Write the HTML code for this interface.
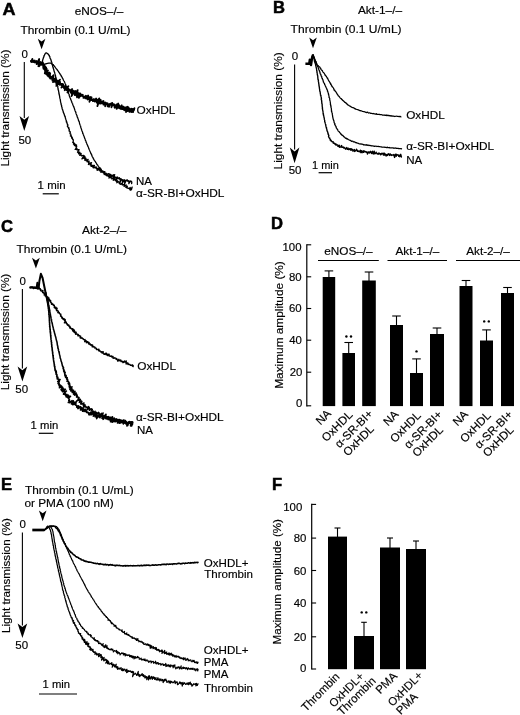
<!DOCTYPE html>
<html lang="en">
<head>
<meta charset="utf-8">
<title>Figure</title>
<style>
html,body{margin:0;padding:0;background:#fff;}
body{width:520px;height:715px;overflow:hidden;}
svg{display:block;font-family:"Liberation Sans",sans-serif;fill:#000;filter:grayscale(1);}
text{stroke:#000;stroke-width:0.16px;}
</style>
</head>
<body>
<svg width="520" height="715" viewBox="0 0 520 715">
<rect x="0" y="0" width="520" height="715" fill="#fff"/>
<!-- panel_A -->
<text x="2.4" y="14.8" font-size="16.6" text-anchor="start" font-weight="bold" textLength="13.0" lengthAdjust="spacingAndGlyphs" style="stroke-width:0.5px">A</text>
<text x="74.7" y="14.5" font-size="11.5" text-anchor="start" font-weight="normal" textLength="48.6" lengthAdjust="spacingAndGlyphs">eNOS–/–</text>
<text x="20.4" y="34.2" font-size="11.5" text-anchor="start" font-weight="normal" textLength="110.2" lengthAdjust="spacingAndGlyphs">Thrombin (0.1 U/mL)</text>
<path d="M37.8,38.7 L41.6,41.4 L45.4,38.7 L41.6,49.3 Z" fill="#000"/>
<text x="24.6" y="57.6" font-size="11.5" text-anchor="middle" font-weight="normal">0</text>
<line x1="24.3" y1="62.0" x2="24.3" y2="118.0" stroke="#000" stroke-width="1.1"/>
<path d="M19.5,116.0 L24.3,119.8 L29.1,116.0 L24.3,131.0 Z" fill="#000"/>
<text x="24.8" y="144.2" font-size="11.5" text-anchor="middle" font-weight="normal">50</text>
<text transform="translate(9.3,166.6) rotate(-90)" font-size="11.5" textLength="117.0" lengthAdjust="spacingAndGlyphs">Light transmission (%)</text>
<text x="37.6" y="189.2" font-size="11.5" text-anchor="start" font-weight="normal" textLength="28.0" lengthAdjust="spacingAndGlyphs">1 min</text>
<line x1="42.7" y1="193.8" x2="58.8" y2="193.8" stroke="#000" stroke-width="1.2"/>
<text x="136.6" y="113.6" font-size="11.5" text-anchor="start" font-weight="normal" textLength="38.8" lengthAdjust="spacingAndGlyphs">OxHDL</text>
<text x="136.0" y="185.1" font-size="11.5" text-anchor="start" font-weight="normal">NA</text>
<text x="136.1" y="196.9" font-size="11.5" text-anchor="start" font-weight="normal" textLength="88.4" lengthAdjust="spacingAndGlyphs">α-SR-BI+OxHDL</text>
<path d="M30.88,60.99 L31.00,61.73 L31.46,61.11 L32.36,58.90 L31.82,62.07 L32.28,61.51 L32.95,60.22 L32.79,61.86 L33.16,61.64 L33.48,61.63 L33.88,61.35 L33.94,62.15 L34.79,60.47 L34.82,61.35 L35.25,61.01 L35.04,62.59 L35.58,61.92 L36.02,61.56 L36.54,60.99 L36.57,61.80 L36.73,62.27 L37.15,61.98 L36.67,64.22 L37.09,63.93 L39.21,58.96 L39.10,60.19 L38.52,62.63 L38.93,62.40 L38.87,63.37 L39.15,63.49 L38.36,66.14 L40.46,61.95 L40.32,63.05 L39.13,66.36 L40.24,64.65 L40.49,64.79 L41.51,63.40 L42.55,62.08 L41.59,64.55 L41.90,64.62 L43.09,63.07 L42.98,63.91 L42.81,64.83 L43.78,63.95 L43.34,65.15 L43.39,65.55 L43.66,65.69 L44.46,65.41 L43.32,66.54 L43.00,66.86 L43.86,66.82 L45.53,66.64 L43.45,67.53 L45.25,67.37 L43.38,68.14 L46.20,67.77 L43.47,68.73 L44.86,68.71 L46.66,68.58 L45.41,69.19 L44.96,69.61 L44.73,69.98 L46.56,69.77 L46.81,69.96 L45.11,70.84 L46.10,70.69 L45.35,71.44 L44.84,72.08 L48.00,70.56 L45.79,72.25 L44.78,73.28 L46.79,72.31 L47.56,72.11 L45.91,73.70 L46.68,73.50 L46.16,74.34 L47.73,73.41 L49.14,72.51 L47.87,74.07 L48.42,73.94 L47.39,75.41 L48.20,75.02 L50.22,73.29 L50.00,73.95 L48.19,76.37 L48.61,76.36 L50.12,75.15 L49.72,76.03 L49.49,76.71 L49.69,76.94 L49.51,77.58 L50.34,77.13 L50.91,76.95 L51.29,76.98 L50.25,78.61 L53.62,75.18 L51.85,77.70 L51.91,78.08 L53.49,76.64 L52.10,78.80 L53.23,77.88 L52.09,79.78 L53.22,78.84 L52.75,79.94 L52.50,80.76 L53.48,79.98 L54.82,78.71 L55.61,78.14 L53.03,82.12 L54.88,80.13 L55.61,79.63 L55.14,80.78 L55.67,80.56 L55.03,81.97 L55.97,81.18 L56.23,81.33 L57.09,80.64 L56.33,82.21 L57.84,80.61 L56.66,82.79 L56.18,83.98 L58.99,80.56 L60.03,79.63 L57.67,83.43 L56.27,85.88 L59.53,81.88 L59.99,81.77 L58.66,84.10 L60.12,82.60 L60.08,83.17 L60.19,83.53 L59.68,84.74 L60.72,83.82 L60.38,84.80 L61.01,84.44 L61.82,83.83 L61.62,84.62 L62.40,84.05 L61.83,85.36 L63.03,84.20 L63.25,84.41 L61.34,87.59 L62.86,85.98 L63.10,86.15 L62.88,87.00 L63.90,86.06 L63.98,86.46 L63.69,87.41 L64.06,87.41 L65.48,85.86 L64.10,88.42 L65.51,86.87 L66.13,86.48 L66.25,86.83 L66.09,87.61 L64.74,90.22 L67.21,86.98 L66.41,88.77 L68.45,86.12 L67.04,88.89 L66.61,90.16 L67.73,88.92 L68.28,88.59 L67.89,89.81 L67.80,90.55 L68.09,90.66 L67.41,92.46 L68.95,90.39 L69.78,89.53 L69.71,90.26 L69.94,90.48 L70.07,90.85 L70.43,90.82 L70.56,91.22 L72.08,89.00 L70.65,92.34 L71.86,90.68 L72.52,90.05 L71.58,92.52 L71.40,93.53 L72.22,92.60 L72.70,92.31 L73.68,91.03 L71.50,96.10 L73.05,93.65 L74.61,91.15 L74.64,91.75 L74.37,93.01 L75.66,90.99 L74.86,93.37 L75.52,92.68 L74.76,95.02 L75.20,94.80 L77.69,90.08 L76.30,93.84 L77.57,91.77 L76.21,95.50 L77.05,94.37 L77.10,95.00 L78.32,92.98 L76.91,96.94 L77.08,97.32 L79.13,93.34 L78.58,95.37 L79.46,94.09 L79.36,95.08 L80.34,93.53 L78.86,97.84 L80.72,94.16 L80.62,95.17 L80.46,96.36 L81.37,94.93 L81.42,95.59 L81.87,95.27 L81.92,95.96 L82.75,94.68 L82.64,95.77 L82.79,96.19 L83.14,96.13 L83.21,96.77 L83.67,96.41 L83.40,97.93 L84.24,96.58 L84.43,96.94 L84.98,96.34 L85.19,96.63 L85.84,95.73 L85.21,98.26 L86.34,96.11 L86.42,96.75 L86.14,98.36 L86.40,98.52 L87.08,97.53 L88.17,95.43 L87.24,98.85 L87.60,98.74 L88.70,96.55 L87.92,99.64 L88.92,97.72 L89.40,97.24 L89.10,99.01 L89.51,98.74 L89.62,99.36 L90.75,96.97 L89.43,101.76 L90.84,98.54 L91.56,97.35 L90.85,100.41 L91.58,99.17 L91.55,100.20 L92.14,99.37 L92.30,99.85 L92.45,100.37 L93.17,99.09 L92.83,101.15 L93.62,99.65 L94.08,99.19 L93.95,100.59 L94.08,101.19 L94.66,100.35 L95.21,99.56 L94.87,101.70 L96.16,98.49 L96.14,99.58 L95.98,101.16 L96.84,99.29 L96.56,101.31 L96.88,101.28 L96.79,102.69 L97.80,100.24 L97.97,100.73 L97.88,102.15 L99.26,98.33 L97.39,106.18 L99.15,100.95 L99.45,100.98 L99.13,103.29 L99.76,102.10 L100.71,99.75 L100.09,103.19 L100.30,103.59 L101.07,101.84 L101.30,102.15 L101.31,103.30 L102.11,101.42 L101.91,103.39 L102.28,103.13 L102.89,101.98 L103.45,101.05 L103.31,102.76 L103.84,101.93 L103.44,104.63 L104.05,103.51 L104.10,104.48 L104.63,103.64 L104.87,103.90 L105.55,102.51 L105.31,104.62 L105.19,106.26 L106.24,103.40 L106.64,103.08 L106.77,103.76 L107.18,103.39 L107.55,103.15 L107.53,104.41 L107.98,103.88 L107.64,106.38 L108.45,104.44 L108.63,104.97 L108.69,105.92 L109.43,104.24 L109.10,106.75 L110.13,103.92 L110.49,103.75 L110.62,104.44 L110.82,104.87 L111.57,103.13 L111.37,105.13 L112.24,102.91 L111.45,107.28 L112.26,105.28 L112.75,104.57 L113.14,104.26 L113.24,105.07 L113.48,105.37 L114.06,104.29 L114.30,104.54 L114.34,105.64 L114.75,105.25 L114.53,107.37 L114.75,107.72 L115.43,106.22 L115.56,106.93 L116.48,104.46 L116.09,107.31 L116.61,106.44 L116.72,107.24 L116.63,108.88 L118.27,103.49 L117.67,107.14 L118.44,105.30 L118.14,107.75 L119.10,105.14 L119.10,106.36 L119.15,107.42 L119.30,108.07 L119.78,107.38 L120.37,106.23 L120.58,106.64 L120.37,108.74 L120.97,107.56 L121.85,105.27 L121.25,108.90 L121.69,108.37 L121.82,109.09 L122.54,107.46 L122.42,109.17 L123.39,106.59 L123.09,108.96 L123.76,107.54 L123.63,109.25 L123.80,109.79 L124.72,107.42 L124.77,108.46 L125.03,108.66 L124.90,110.35 L125.37,109.75 L126.35,107.11 L126.04,109.54 L126.23,110.02 L126.04,112.03 L127.66,106.75 L127.55,108.43 L127.20,111.14 L128.41,107.42 L128.64,107.71 L128.36,110.20 L128.49,110.97 L129.33,108.66 L129.24,110.43 L129.67,109.90 L129.53,111.95 L130.29,109.86 L130.28,111.33 L131.14,108.71 L131.22,109.79 L131.49,109.97 L131.43,111.79 L131.89,111.05 L132.56,109.22 L132.45,111.31 L132.73,111.50 L133.26,110.30 L133.59,110.14 L133.87,110.29 L134.45,108.18" fill="none" stroke="#000" stroke-width="1.8" stroke-linejoin="round" stroke-linecap="round"/>
<rect x="130.6" y="108.2" width="3.4" height="4.6" fill="#000"/>
<path d="M37.99,62.52 L38.39,62.59 L38.77,62.72 L39.19,62.61 L39.52,63.09 L39.93,63.07 L40.34,62.95 L40.74,63.07 L41.14,63.03 L41.53,62.94 L41.90,62.78 L41.97,62.35 L42.11,61.98 L42.19,61.59 L42.42,61.24 L42.48,60.84 L42.65,60.47 L42.65,60.06 L42.82,59.69 L42.83,59.28 L43.10,58.94 L43.15,58.54 L43.29,58.16 L43.43,57.79 L43.45,57.37 L43.77,57.07 L44.04,56.74 L43.84,56.23 L43.98,55.86 L44.14,55.49 L44.51,55.21 L44.59,54.81 L44.83,54.48 L44.97,54.10 L45.10,53.73 L45.32,53.39 L45.54,53.06 L45.90,52.99 L46.32,52.84 L46.69,53.04 L47.01,53.29 L47.25,53.64 L47.72,53.68 L48.05,53.92 L48.31,54.23 L48.48,54.62 L48.82,54.86 L48.90,55.27 L49.37,55.48 L49.27,55.97 L49.44,56.33 L49.82,56.60 L49.83,57.03 L49.88,57.44 L50.13,57.77 L50.18,58.18 L50.20,58.60 L50.53,58.90 L50.73,59.26 L50.90,59.62 L50.90,60.04 L51.10,60.40 L51.22,60.78 L51.32,61.17 L51.36,61.57 L51.64,61.91 L51.79,62.28 L51.99,62.64 L51.74,63.13 L51.96,63.48 L51.92,63.91 L52.17,64.25 L52.35,64.62 L52.33,65.04 L52.49,65.41 L52.71,65.76 L52.78,66.16 L52.64,66.62 L52.88,66.96 L52.99,67.35 L53.16,67.71 L53.32,68.09 L53.28,68.51 L53.49,68.87 L53.66,69.23 L53.72,69.64 L53.91,70.00 L53.92,70.41 L53.94,70.82 L54.24,71.15 L54.14,71.60 L54.45,71.92 L54.48,72.33 L54.69,72.69 L54.74,73.09 L54.82,73.48 L54.98,73.85 L55.11,74.23 L55.21,74.62 L55.33,75.00 L55.50,75.37 L55.48,75.79 L55.51,76.19 L55.56,76.59 L55.68,76.97 L55.60,77.41 L55.90,77.74 L56.07,78.12 L55.93,78.56 L56.30,78.88 L56.19,79.32 L56.46,79.67 L56.41,80.09 L56.72,80.43 L56.52,80.88 L56.70,81.25 L56.86,81.63 L56.68,82.07 L56.84,82.45 L56.99,82.83 L57.14,83.21 L57.15,83.61 L57.23,84.00 L57.22,84.41 L57.29,84.81 L57.50,85.17 L57.56,85.57 L57.64,85.96 L57.79,86.34 L57.79,86.75 L57.81,87.15 L57.81,87.56 L57.82,87.96 L58.10,88.32 L58.04,88.74 L58.21,89.11 L58.04,89.55 L58.32,89.90 L58.34,90.31 L58.56,90.67 L58.62,91.07 L58.60,91.48 L58.73,91.86 L58.74,92.27 L59.00,92.62 L58.86,93.06 L59.09,93.42 L58.91,93.86 L59.19,94.22 L59.13,94.64 L59.45,94.98 L59.34,95.41 L59.55,95.78 L59.59,96.18 L59.61,96.58 L59.72,96.97 L59.74,97.37 L59.76,97.77 L59.85,98.16 L60.00,98.54 L60.20,98.91 L60.22,99.31 L60.23,99.72 L60.50,100.07 L60.30,100.52 L60.47,100.90 L60.55,101.29 L60.51,101.70 L60.62,102.09 L60.74,102.47 L60.94,102.84 L60.90,103.26 L60.98,103.65 L61.18,104.01 L61.08,104.45 L61.22,104.83 L61.55,105.16 L61.44,105.60 L61.66,105.95 L61.53,106.40 L61.66,106.78 L61.95,107.12 L62.03,107.51 L62.04,107.92 L62.18,108.30 L62.12,108.73 L62.31,109.09 L62.53,109.44 L62.56,109.85 L62.93,110.15 L62.83,110.61 L62.90,111.00 L63.13,111.35 L63.31,111.71 L63.32,112.13 L63.32,112.56 L63.61,112.88 L63.87,113.21 L63.77,113.67 L64.21,113.94 L64.13,114.39 L64.36,114.73 L64.36,115.16 L64.66,115.48 L64.59,115.93 L64.82,116.27 L65.14,116.58 L65.30,116.95 L65.27,117.38 L65.24,117.81 L65.48,118.16 L65.61,118.53 L65.76,118.91 L65.79,119.32 L65.94,119.69 L66.06,120.07 L66.32,120.41 L66.19,120.87 L66.28,121.26 L66.72,121.54 L66.37,122.06 L66.69,122.39 L66.97,122.72 L67.30,123.04 L67.03,123.54 L67.15,123.92 L67.46,124.24 L67.78,124.56 L67.38,125.10 L67.81,125.39 L67.90,125.78 L67.36,126.36 L67.60,126.71 L67.95,127.02 L68.37,127.31 L68.24,127.77 L69.03,127.94 L68.60,128.50 L68.93,128.81 L69.18,129.15 L69.39,129.50 L68.97,130.06 L69.20,130.40 L69.31,130.79 L69.24,131.23 L69.84,131.46 L70.08,131.80 L70.38,132.12 L70.07,132.64 L69.85,133.14 L70.27,133.42 L70.14,133.89 L70.86,134.06 L70.76,134.52 L70.99,134.86 L71.30,135.18 L70.32,135.94 L70.81,136.20 L71.54,136.36 L71.68,136.74 L71.54,137.21 L72.22,137.39 L71.62,138.03 L72.46,138.14 L72.24,138.66 L72.66,138.92 L72.58,139.38 L73.10,139.61 L73.36,139.93 L73.25,140.40 L73.27,140.82 L73.25,141.26 L73.23,141.70 L72.69,142.36 L73.18,142.60 L73.86,142.74 L73.53,143.32 L74.40,143.37 L73.48,144.23 L74.10,144.39 L75.27,144.27 L74.33,145.17 L74.48,145.56 L76.55,144.93 L75.70,145.82 L75.74,146.25 L76.75,146.16 L76.47,146.76 L76.60,147.14 L75.95,147.97 L76.26,148.25 L75.06,149.42 L77.09,148.69 L76.34,149.61 L77.21,149.55 L77.30,149.97 L78.42,149.73 L79.13,149.74 L78.62,150.54 L77.84,151.54 L77.51,152.26 L78.38,152.15 L78.68,152.43 L79.83,152.10 L78.44,153.62 L78.80,153.87 L80.35,153.18 L80.26,153.76 L81.18,153.52 L79.69,155.28 L80.71,154.96 L81.33,154.95 L81.23,155.57 L81.48,155.90 L82.37,155.61 L83.24,155.32 L83.54,155.57 L84.14,155.53 L82.86,157.36 L81.92,158.90 L84.95,156.38 L83.95,157.98 L84.05,158.45 L85.31,157.72 L84.77,158.86 L85.96,158.20 L84.65,160.13 L86.18,159.11 L85.99,159.89 L85.89,160.59 L86.94,160.05 L88.16,159.32 L87.59,160.52 L87.01,161.74 L87.88,161.39 L87.97,161.89 L89.14,161.17 L88.63,162.35 L88.54,163.06 L89.30,162.80 L88.38,164.48 L90.06,163.14 L90.91,162.76 L91.58,162.57 L90.11,164.95 L91.19,164.27 L90.83,165.36 L91.49,165.18 L91.08,166.35 L91.62,166.31 L92.95,165.27 L92.87,166.03 L92.69,166.92 L94.42,165.32 L93.11,167.70 L93.58,167.76 L94.04,167.82 L95.07,167.10 L95.09,167.75 L96.24,166.82 L95.89,168.01 L96.58,167.70 L96.54,168.48 L97.19,168.22 L97.10,169.09 L96.98,170.06 L98.61,168.15 L97.81,170.27 L99.63,167.95 L100.04,168.00 L99.38,169.97 L99.67,170.27 L99.81,170.85 L101.15,169.20 L100.75,170.79 L101.02,171.14 L100.86,172.32 L101.84,171.30 L101.91,172.05 L102.94,170.88 L102.94,171.77 L103.42,171.72 L103.26,172.92 L104.37,171.58 L104.66,171.90 L104.39,173.34 L104.21,174.61 L105.20,173.52 L105.59,173.63 L106.24,173.23 L105.96,174.69 L106.56,174.38 L106.40,175.62 L107.37,174.54 L108.29,173.57 L108.49,174.08 L109.03,173.88 L109.50,173.81 L108.78,176.25 L109.34,176.01 L110.57,174.33 L109.67,177.24 L110.67,176.01 L111.53,175.07 L111.35,176.46 L111.90,176.21 L112.54,175.72 L113.36,174.80 L112.96,176.78 L113.23,177.17 L114.68,174.65 L113.88,177.71 L114.23,177.92 L115.00,177.05 L115.16,177.73 L115.68,177.51 L116.24,177.12 L116.45,177.71 L116.24,179.46 L117.57,176.96 L117.38,178.68 L117.77,178.76 L118.44,178.05 L118.73,178.44 L119.42,177.66 L119.62,178.31 L119.72,179.25 L120.00,179.68 L120.77,178.64 L119.90,182.52 L121.42,179.21 L121.58,180.00 L122.07,179.78 L122.51,179.75 L122.36,181.49 L123.29,179.92 L123.11,181.77 L123.55,181.71 L124.60,179.75 L124.35,181.85 L125.24,180.37 L124.61,183.72 L125.92,180.86 L126.47,180.45 L127.14,179.64 L127.33,180.34 L127.51,181.14 L128.01,180.86 L128.46,180.75 L128.68,181.38 L128.93,181.96 L128.84,183.66 L130.11,180.75 L130.17,181.96 L130.67,181.69 L131.21,181.26 L131.52,181.61 L131.80,182.06 L131.61,183.69" fill="none" stroke="#000" stroke-width="1.3" stroke-linejoin="round" stroke-linecap="round"/>
<path d="M39.89,64.17 L40.47,63.99 L40.67,64.45 L41.07,64.53 L41.44,64.68 L41.81,64.82 L42.23,64.73 L42.59,64.96 L42.99,64.91 L43.45,65.29 L43.78,64.88 L44.13,64.68 L44.49,64.51 L44.83,64.29 L45.16,64.06 L45.54,63.93 L45.94,63.84 L46.29,63.63 L46.71,63.65 L47.07,63.44 L47.46,63.37 L47.89,63.43 L48.25,63.25 L48.63,63.07 L49.03,63.05 L49.44,63.08 L49.84,63.20 L50.23,62.99 L50.62,63.09 L50.94,63.37 L51.38,63.40 L51.68,63.67 L51.94,64.00 L52.28,64.21 L52.63,64.41 L52.90,64.71 L53.43,64.74 L53.43,65.30 L53.84,65.47 L54.15,65.73 L54.26,66.16 L54.48,66.50 L54.82,66.73 L55.12,67.00 L55.29,67.38 L55.55,67.69 L55.68,68.09 L55.98,68.37 L56.27,68.65 L56.44,69.02 L56.78,69.26 L57.08,69.54 L57.19,69.96 L57.42,70.28 L57.72,70.56 L58.00,70.85 L58.14,71.24 L58.59,71.42 L58.55,71.93 L58.79,72.25 L59.19,72.46 L59.27,72.89 L59.57,73.17 L59.65,73.60 L60.10,73.79 L60.22,74.19 L60.29,74.61 L60.47,74.97 L60.96,75.14 L61.03,75.57 L61.17,75.95 L61.46,76.24 L61.47,76.70 L61.92,76.90 L61.98,77.33 L62.31,77.60 L62.29,78.07 L62.61,78.35 L62.83,78.68 L63.14,78.97 L63.03,79.48 L63.30,79.80 L63.48,80.15 L63.63,80.52 L63.88,80.85 L64.14,81.16 L64.33,81.52 L64.50,81.88 L64.47,82.33 L64.90,82.58 L64.98,82.98 L65.11,83.36 L65.21,83.75 L65.33,84.14 L65.64,84.44 L65.83,84.80 L65.81,85.23 L65.83,85.65 L66.01,86.01 L66.20,86.37 L66.38,86.73 L66.45,87.13 L66.64,87.49 L66.66,87.90 L66.95,88.23 L66.98,88.64 L67.13,89.01 L67.20,89.41 L67.36,89.78 L67.26,90.23 L67.49,90.58 L67.61,90.96 L68.07,91.23 L68.04,91.66 L68.19,92.03 L68.21,92.45 L68.60,92.74 L68.40,93.23 L68.54,93.60 L68.89,93.90 L68.99,94.29 L69.10,94.68 L69.16,95.08 L69.23,95.48 L69.24,95.90 L69.58,96.20 L69.63,96.61 L69.83,96.96 L69.82,97.40 L70.06,97.73 L70.14,98.13 L70.51,98.42 L70.57,98.82 L70.78,99.17 L70.70,99.63 L70.93,99.97 L71.16,100.31 L71.32,100.68 L71.38,101.08 L71.64,101.41 L71.80,101.78 L71.82,102.20 L71.78,102.64 L72.18,102.92 L72.35,103.28 L72.56,103.63 L72.72,103.99 L72.69,104.44 L72.81,104.82 L73.03,105.16 L73.15,105.55 L73.31,105.91 L73.45,106.28 L73.75,106.60 L73.80,107.01 L73.89,107.40 L74.11,107.75 L74.23,108.13 L74.40,108.49 L74.49,108.89 L74.52,109.30 L74.78,109.63 L74.89,110.02 L74.94,110.43 L75.10,110.79 L75.14,111.21 L75.63,111.45 L75.49,111.93 L75.76,112.26 L75.84,112.65 L75.91,113.05 L76.03,113.44 L76.17,113.81 L76.39,114.16 L76.39,114.58 L76.70,114.89 L76.83,115.27 L76.87,115.68 L77.14,116.01 L77.02,116.48 L77.26,116.82 L77.28,117.23 L77.62,117.54 L77.79,117.90 L77.87,118.30 L77.95,118.69 L78.21,119.03 L78.25,119.44 L78.42,119.80 L78.39,120.23 L78.74,120.54 L78.71,120.97 L79.00,121.30 L79.15,121.66 L79.26,122.05 L79.43,122.42 L79.43,122.84 L79.47,123.24 L79.68,123.60 L79.75,123.99 L79.78,124.40 L80.02,124.75 L80.15,125.13 L80.31,125.50 L80.55,125.84 L80.44,126.29 L80.80,126.60 L80.68,127.05 L80.86,127.42 L80.87,127.83 L81.10,128.18 L81.29,128.54 L81.30,128.96 L81.50,129.31 L81.59,129.71 L81.69,130.09 L81.83,130.47 L81.97,130.84 L82.16,131.20 L82.23,131.60 L82.54,131.91 L82.49,132.36 L82.72,132.70 L82.64,133.15 L82.77,133.53 L83.21,133.80 L83.15,134.24 L83.32,134.61 L83.54,134.95 L83.54,135.38 L83.77,135.72 L84.04,136.04 L84.04,136.47 L84.18,136.85 L84.30,137.23 L84.57,137.55 L84.54,137.99 L84.68,138.37 L85.00,138.67 L85.10,139.06 L85.19,139.46 L85.39,139.81 L85.32,140.27 L85.61,140.58 L85.87,140.91 L85.99,141.29 L86.07,141.69 L86.00,142.15 L86.38,142.43 L86.50,142.81 L86.62,143.20 L86.82,143.55 L86.75,144.01 L87.16,144.27 L87.19,144.69 L87.40,145.04 L87.51,145.43 L87.83,145.73 L87.71,146.21 L88.04,146.51 L88.17,146.88 L88.42,147.21 L88.55,147.59 L88.59,148.01 L88.71,148.39 L88.88,148.75 L89.00,149.14 L89.20,149.49 L89.42,149.83 L89.51,150.23 L89.69,150.59 L89.91,150.93 L89.99,151.33 L90.10,151.72 L90.35,152.04 L90.56,152.39 L90.62,152.80 L90.67,153.21 L91.02,153.50 L91.17,153.87 L91.33,154.23 L91.37,154.65 L91.81,154.89 L91.77,155.35 L91.86,155.75 L92.21,156.03 L92.17,156.49 L92.43,156.81 L92.70,157.12 L92.81,157.52 L93.14,157.79 L93.24,158.19 L93.22,158.66 L93.65,158.88 L93.60,159.36 L93.97,159.62 L94.08,160.02 L94.37,160.31 L94.77,160.53 L94.84,160.96 L94.99,161.34 L95.32,161.60 L95.55,161.93 L95.63,162.35 L95.94,162.63 L96.25,162.90 L96.39,163.29 L96.49,163.70 L96.83,163.96 L96.94,164.36 L97.12,164.73 L97.47,164.97 L97.80,165.23 L98.04,165.55 L98.16,165.95 L98.31,166.34 L98.59,166.63 L98.79,166.98 L99.14,167.22 L99.28,167.61 L99.62,167.86 L99.84,168.19 L100.23,168.40 L100.53,168.66 L100.61,169.11 L100.97,169.32 L101.21,169.64 L101.18,170.21 L101.60,170.36 L101.27,171.24 L101.95,171.15 L102.56,171.09 L102.54,171.69 L102.92,171.87 L103.46,171.88 L103.33,172.62 L104.09,172.36 L104.98,171.93 L104.30,173.35 L104.98,173.15 L104.73,174.11 L105.63,173.62 L106.10,173.65 L105.64,174.93 L106.72,174.14 L106.67,174.89 L106.61,175.66 L107.35,175.32 L107.74,175.46 L108.01,175.76 L108.12,176.35 L108.98,175.73 L108.86,176.68 L109.21,176.88 L108.97,178.08 L110.20,176.78 L110.75,176.63 L110.53,177.82 L111.27,177.32 L111.37,177.95 L111.78,178.05 L111.73,178.94 L112.78,177.92 L112.90,178.50 L114.27,176.97 L113.93,178.34 L113.22,180.29 L114.54,178.88 L114.90,179.06 L115.49,178.87 L114.99,180.45 L115.52,180.35 L116.50,179.51 L115.98,181.15 L116.51,181.04 L116.62,181.63 L117.61,180.76 L116.84,182.80 L117.81,181.99 L118.39,181.79 L118.92,181.68 L119.14,182.10 L118.98,183.16 L119.84,182.49 L119.57,183.74 L120.14,183.55 L120.15,184.35 L120.74,184.13 L121.48,183.64 L122.63,182.39 L122.02,184.32 L122.16,184.90 L122.78,184.59 L122.96,185.10 L123.76,184.47 L124.07,184.73 L124.66,184.48 L124.04,186.50 L124.90,185.73 L125.53,185.39 L126.23,184.91 L126.09,186.03 L125.79,187.49 L126.55,186.89 L127.39,186.12 L126.87,188.03 L127.23,188.22 L127.77,188.04 L128.21,188.06 L128.42,188.54 L129.03,188.22 L129.30,188.58 L130.27,187.50 L129.74,189.52 L130.59,188.66 L130.27,190.29 L132.19,187.15 L131.50,189.56 L131.43,189.80" fill="none" stroke="#000" stroke-width="1.25" stroke-linejoin="round" stroke-linecap="round"/>
<!-- panel_B -->
<text x="272.9" y="13.4" font-size="16.6" text-anchor="start" font-weight="bold" style="stroke-width:0.5px">B</text>
<text x="357.9" y="13.9" font-size="11.5" text-anchor="start" font-weight="normal" textLength="44.2" lengthAdjust="spacingAndGlyphs">Akt-1–/–</text>
<text x="290.6" y="32.8" font-size="11.5" text-anchor="start" font-weight="normal" textLength="111.0" lengthAdjust="spacingAndGlyphs">Thrombin (0.1 U/mL)</text>
<path d="M309.2,37.6 L313.0,40.3 L316.8,37.6 L313.0,48.3 Z" fill="#000"/>
<text x="294.9" y="60.0" font-size="11.5" text-anchor="middle" font-weight="normal">0</text>
<line x1="294.6" y1="64.5" x2="294.6" y2="149.6" stroke="#000" stroke-width="1.1"/>
<path d="M289.8,147.6 L294.6,151.5 L299.4,147.6 L294.6,163.3 Z" fill="#000"/>
<text x="295.1" y="173.9" font-size="11.5" text-anchor="middle" font-weight="normal">50</text>
<text transform="translate(281.9,169.4) rotate(-90)" font-size="11.5" textLength="117.0" lengthAdjust="spacingAndGlyphs">Light transmission (%)</text>
<text x="312.0" y="169.0" font-size="11.5" text-anchor="start" font-weight="normal" textLength="26.8" lengthAdjust="spacingAndGlyphs">1 min</text>
<line x1="318.6" y1="172.7" x2="332.0" y2="172.7" stroke="#000" stroke-width="1.2"/>
<text x="406.2" y="119.2" font-size="11.5" text-anchor="start" font-weight="normal" textLength="38.5" lengthAdjust="spacingAndGlyphs">OxHDL</text>
<text x="406.2" y="149.6" font-size="11.5" text-anchor="start" font-weight="normal" textLength="88.0" lengthAdjust="spacingAndGlyphs">α-SR-BI+OxHDL</text>
<text x="406.2" y="164.2" font-size="11.5" text-anchor="start" font-weight="normal">NA</text>
<path d="M305.4,63.8 L309.2,63.8 L309.8,59.6 L311,65 L312.2,57 L313,54.8" fill="none" stroke="#000" stroke-width="2.4" stroke-linejoin="round"/>
<path d="M313.09,54.77 L313.20,55.26 L313.12,55.82 L313.44,56.24 L313.94,56.58 L313.89,57.14 L314.16,57.57 L314.23,58.08 L314.65,58.45 L314.58,59.02 L314.76,59.48 L314.75,60.02 L315.11,60.42 L315.25,60.90 L315.70,61.27 L315.32,61.93 L316.08,62.20 L315.81,62.82 L316.18,63.22 L316.44,63.65 L316.60,64.12 L316.82,64.56 L316.98,65.06 L317.39,65.35 L317.68,65.84 L318.37,65.67 L318.63,66.19 L319.09,66.44 L319.25,66.98 L319.90,67.08 L320.01,67.64 L320.24,68.09 L320.74,68.35 L320.73,68.97 L321.11,69.31 L321.30,69.79 L321.60,70.20 L322.13,70.43 L322.41,70.85 L322.63,71.30 L322.81,71.79 L323.10,72.20 L323.58,72.46 L323.87,72.87 L324.19,73.26 L324.45,73.69 L324.70,74.12 L324.98,74.54 L325.00,75.14 L325.60,75.33 L325.86,75.76 L326.05,76.23 L326.50,76.53 L326.71,76.99 L326.94,77.44 L327.11,77.92 L327.65,78.18 L327.57,78.81 L328.05,79.11 L328.23,79.58 L328.39,80.06 L328.67,80.48 L328.86,80.95 L329.22,81.32 L329.49,81.74 L329.68,82.20 L330.10,82.55 L330.05,83.14 L330.55,83.44 L330.86,83.84 L330.67,84.52 L331.20,84.79 L331.58,85.15 L331.44,85.81 L331.98,86.07 L332.06,86.61 L332.57,86.88 L332.77,87.35 L333.22,87.65 L333.52,88.06 L333.67,88.55 L333.83,89.04 L333.99,89.54 L334.05,90.09 L334.76,90.23 L334.78,90.81 L335.26,91.10 L335.48,91.55 L335.92,91.85 L336.20,92.27 L336.39,92.74 L336.73,93.11 L336.87,93.62 L337.25,93.97 L337.31,94.54 L337.74,94.85 L338.04,95.24 L338.24,95.73 L338.63,96.06 L339.01,96.39 L339.34,96.76 L339.68,97.13 L339.89,97.62 L340.27,97.95 L340.67,98.27 L340.97,98.67 L341.47,98.88 L341.71,99.34 L342.27,99.49 L342.35,100.13 L342.84,100.34 L343.19,100.69 L343.52,101.08 L343.95,101.35 L344.35,101.65 L344.58,102.14 L345.06,102.35 L345.55,102.56 L345.80,103.03 L346.39,103.10 L346.46,103.81 L347.03,103.90 L347.40,104.23 L347.60,104.80 L348.02,105.08 L348.61,105.13 L348.97,105.48 L349.35,105.82 L349.72,106.17 L350.29,106.21 L350.69,106.50 L351.04,106.90 L351.55,107.03 L351.95,107.34 L352.40,107.55 L352.97,107.55 L353.39,107.80 L353.96,107.77 L354.26,108.30 L354.62,108.72 L355.23,108.58 L355.56,109.10 L356.04,109.25 L356.56,109.28 L357.03,109.46 L357.49,109.64 L358.01,109.68 L358.45,109.93 L358.91,110.12 L359.36,110.38 L359.82,110.56 L360.37,110.51 L360.77,110.89 L361.32,110.82 L361.76,111.06 L362.22,111.29 L362.71,111.38 L363.20,111.51 L363.66,111.70 L364.17,111.71 L364.66,111.82 L365.13,112.00 L365.58,112.28 L366.10,112.23 L366.53,112.63 L367.07,112.49 L367.66,112.12 L368.07,112.60 L368.50,113.00 L369.04,112.86 L369.54,112.89 L370.05,112.91 L370.48,113.33 L370.98,113.37 L371.48,113.41 L371.98,113.46 L372.45,113.69 L372.96,113.68 L373.50,113.46 L373.94,113.84 L374.45,113.83 L374.95,113.86 L375.43,114.07 L375.94,114.03 L376.50,113.67 L376.89,114.41 L377.40,114.40 L377.92,114.30 L378.42,114.33 L378.90,114.49 L379.43,114.33 L379.89,114.63 L380.40,114.62 L380.90,114.66 L381.41,114.64 L381.90,114.74 L382.36,115.07 L382.85,115.16 L383.36,115.09 L383.87,115.07 L384.38,115.00 L384.85,115.30 L385.33,115.49 L385.88,115.06 L386.34,115.53 L386.89,115.08 L387.35,115.41 L387.84,115.57 L388.36,115.36 L388.86,115.39 L389.34,115.69 L389.82,115.84 L390.34,115.69 L390.81,116.01 L391.34,115.74 L391.80,116.17 L392.32,115.97 L392.82,116.03 L393.31,116.14 L393.81,116.14 L394.29,116.41 L394.78,116.51 L395.30,116.31 L395.81,116.25 L396.32,116.14 L396.82,116.25 L397.30,116.40 L397.80,116.43 L398.30,116.48 L398.80,116.53 L399.29,116.64 L399.81,116.40 L400.31,116.49 L400.78,116.85 L400.99,116.83" fill="none" stroke="#000" stroke-width="1.25" stroke-linejoin="round" stroke-linecap="round"/>
<path d="M313.11,54.75 L313.37,55.19 L313.41,55.71 L313.50,56.21 L313.59,56.72 L313.92,57.12 L314.20,57.55 L314.42,58.00 L314.39,58.55 L314.46,59.06 L314.83,59.45 L315.23,59.83 L315.38,60.31 L315.21,60.92 L315.59,61.30 L316.05,61.66 L316.00,62.21 L316.34,62.62 L316.46,63.11 L316.62,63.58 L316.84,64.03 L316.85,64.57 L317.12,65.00 L317.38,65.44 L317.42,65.96 L317.54,66.45 L318.06,66.78 L318.04,67.32 L318.32,67.76 L318.37,68.27 L318.70,68.68 L318.69,69.22 L318.87,69.68 L319.07,70.14 L319.35,70.58 L319.42,71.08 L319.69,71.51 L319.90,71.97 L319.84,72.52 L320.20,72.92 L320.05,73.51 L320.29,73.95 L320.85,74.28 L320.71,74.87 L321.08,75.26 L321.11,75.79 L321.29,76.25 L321.76,76.60 L321.71,77.16 L321.90,77.62 L321.92,78.15 L322.41,78.49 L322.34,79.06 L322.79,79.42 L322.88,79.92 L323.15,80.35 L323.03,80.95 L323.35,81.35 L323.29,81.92 L323.73,82.28 L323.90,82.75 L324.10,83.21 L324.50,83.58 L324.62,84.07 L324.62,84.61 L325.05,84.97 L325.17,85.47 L325.40,85.91 L325.52,86.41 L325.86,86.80 L326.03,87.27 L326.19,87.75 L326.41,88.20 L326.74,88.61 L326.68,89.17 L327.17,89.51 L327.34,89.99 L327.52,90.46 L327.36,91.04 L327.70,91.45 L327.94,91.90 L328.11,92.38 L328.02,92.92 L328.37,93.35 L328.53,93.82 L328.39,94.38 L328.78,94.79 L328.77,95.31 L328.84,95.81 L329.03,96.28 L329.08,96.78 L328.99,97.31 L329.38,97.74 L329.59,98.20 L329.79,98.67 L329.65,99.21 L329.78,99.70 L329.79,100.21 L330.00,100.67 L330.11,101.16 L330.24,101.65 L330.30,102.14 L330.29,102.66 L330.45,103.13 L330.46,103.64 L330.28,104.18 L330.57,104.64 L330.95,105.08 L330.54,105.65 L330.82,106.11 L331.08,106.58 L330.89,107.12 L331.09,107.59 L331.26,108.07 L331.34,108.56 L331.47,109.05 L331.39,109.57 L331.32,110.09 L331.61,110.55 L331.58,111.06 L331.45,111.59 L332.00,112.00 L331.87,112.53 L332.05,113.00 L332.26,113.47 L332.35,113.96 L332.31,114.48 L332.34,114.99 L332.59,115.45 L332.61,115.95 L332.62,116.46 L332.79,116.94 L332.81,117.44 L332.99,117.92 L333.10,118.41 L333.02,118.94 L333.32,119.38 L333.52,119.85 L333.56,120.35 L333.93,120.77 L333.99,121.27 L333.97,121.80 L334.14,122.27 L334.16,122.79 L334.54,123.20 L334.91,123.60 L334.59,124.24 L334.88,124.67 L335.35,125.02 L335.19,125.62 L335.57,126.01 L336.02,126.36 L336.03,126.90 L336.26,127.34 L336.20,127.93 L336.75,128.21 L336.93,128.68 L337.18,129.11 L337.46,129.53 L337.79,129.90 L337.93,130.41 L338.12,130.90 L338.47,131.26 L338.96,131.52 L339.29,131.89 L339.46,132.39 L339.88,132.69 L340.20,133.07 L340.66,133.33 L340.61,134.06 L341.08,134.31 L341.64,134.45 L341.80,135.00 L342.13,135.39 L342.87,135.32 L343.06,135.85 L343.42,136.20 L343.70,136.64 L344.17,136.86 L344.57,137.15 L344.96,137.46 L345.22,137.98 L345.62,138.30 L346.26,138.22 L346.72,138.43 L346.88,139.15 L347.59,138.91 L347.99,139.20 L348.39,139.52 L348.81,139.80 L349.22,140.10 L349.72,140.23 L350.25,140.27 L350.62,140.67 L351.09,140.84 L351.45,141.26 L352.02,141.20 L352.56,141.20 L353.01,141.43 L353.34,141.96 L353.91,141.85 L354.46,141.79 L354.86,142.16 L355.31,142.40 L355.74,142.72 L356.31,142.54 L356.72,142.93 L357.19,143.09 L357.73,143.01 L358.20,143.22 L358.60,143.63 L359.09,143.75 L359.61,143.75 L360.11,143.80 L360.57,144.04 L361.10,143.97 L361.58,144.09 L362.10,144.08 L362.56,144.32 L363.05,144.41 L363.45,144.93 L364.03,144.59 L364.48,144.90 L364.97,145.00 L365.51,144.86 L365.97,145.15 L366.54,144.73 L366.98,145.15 L367.46,145.34 L368.02,144.93 L368.49,145.19 L368.94,145.59 L369.46,145.46 L369.97,145.41 L370.45,145.58 L370.95,145.62 L371.42,145.87 L371.92,145.90 L372.43,145.85 L372.94,145.85 L373.42,146.00 L373.89,146.27 L374.41,146.18 L374.90,146.28 L375.41,146.23 L375.93,146.11 L376.41,146.26 L376.89,146.52 L377.39,146.49 L377.91,146.40 L378.42,146.34 L378.88,146.66 L379.39,146.64 L379.89,146.69 L380.38,146.75 L380.87,146.89 L381.37,146.94 L381.86,147.09 L382.35,147.14 L382.84,147.25 L383.35,147.22 L383.86,147.10 L384.36,147.19 L384.85,147.32 L385.36,147.25 L385.84,147.42 L386.33,147.56 L386.86,147.32 L387.37,147.22 L387.82,147.71 L388.34,147.58 L388.83,147.73 L389.35,147.47 L389.81,147.97 L390.32,147.87 L390.83,147.79 L391.33,147.80 L391.82,147.92 L392.32,147.92 L392.82,147.95 L393.33,147.87 L393.80,148.28 L394.31,148.13 L394.81,148.19 L395.31,148.24 L395.84,147.92 L396.30,148.40 L396.81,148.32 L397.30,148.37 L397.80,148.47 L398.31,148.36 L398.78,148.68 L399.30,148.50 L399.80,148.51 L400.30,148.56 L400.78,148.76 L401.27,148.89 L401.51,148.71" fill="none" stroke="#000" stroke-width="1.25" stroke-linejoin="round" stroke-linecap="round"/>
<path d="M312.90,54.82 L312.92,55.23 L313.44,55.52 L313.30,55.96 L313.28,56.38 L313.34,56.78 L313.51,57.15 L313.52,57.56 L313.74,57.91 L313.81,58.31 L313.94,58.69 L314.16,59.05 L314.24,59.44 L314.21,59.86 L314.41,60.22 L314.32,60.65 L314.42,61.04 L314.47,61.44 L314.75,61.78 L314.71,62.21 L315.04,62.54 L315.13,62.92 L315.15,63.33 L315.24,63.72 L315.54,64.06 L315.66,64.44 L315.57,64.88 L315.79,65.23 L315.69,65.67 L315.87,66.04 L315.97,66.42 L316.08,66.81 L316.10,67.21 L316.28,67.58 L316.24,68.00 L316.48,68.36 L316.52,68.76 L316.64,69.15 L316.58,69.56 L316.70,69.95 L316.85,70.33 L316.64,70.77 L316.93,71.13 L316.97,71.52 L316.98,71.93 L316.91,72.34 L317.15,72.71 L317.13,73.12 L317.24,73.51 L317.46,73.88 L317.29,74.31 L317.33,74.71 L317.51,75.08 L317.54,75.48 L317.75,75.86 L317.80,76.25 L317.75,76.67 L317.71,77.08 L317.87,77.46 L317.85,77.86 L317.84,78.27 L317.99,78.65 L318.00,79.06 L317.97,79.46 L318.30,79.82 L318.16,80.24 L318.48,80.60 L318.31,81.03 L318.39,81.42 L318.53,81.81 L318.64,82.20 L318.59,82.61 L318.69,83.00 L318.69,83.40 L318.85,83.78 L318.77,84.20 L318.98,84.57 L318.96,84.98 L319.03,85.37 L318.93,85.79 L319.26,86.15 L319.21,86.56 L319.11,86.98 L319.35,87.35 L319.47,87.73 L319.38,88.15 L319.50,88.54 L319.45,88.95 L319.68,89.32 L319.64,89.73 L319.65,90.13 L319.68,90.54 L319.96,90.89 L319.78,91.33 L320.08,91.68 L320.21,92.07 L320.23,92.47 L320.20,92.88 L320.32,93.27 L320.32,93.67 L320.39,94.07 L320.48,94.46 L320.62,94.84 L320.49,95.27 L320.96,95.59 L320.99,95.99 L320.94,96.40 L321.09,96.78 L321.29,97.16 L321.18,97.58 L321.25,97.98 L321.48,98.34 L321.22,98.79 L321.24,99.19 L321.31,99.59 L321.54,99.96 L321.54,100.36 L321.72,100.74 L321.64,101.15 L321.78,101.54 L321.72,101.95 L321.85,102.34 L321.76,102.75 L321.83,103.15 L321.83,103.55 L322.16,103.91 L322.23,104.31 L322.05,104.73 L322.20,105.12 L322.15,105.52 L322.20,105.92 L322.26,106.32 L322.23,106.72 L322.31,107.12 L322.36,107.51 L322.55,107.89 L322.33,108.32 L322.54,108.70 L322.49,109.11 L322.62,109.50 L322.57,109.91 L322.73,110.29 L322.78,110.69 L322.85,111.08 L322.99,111.47 L323.04,111.86 L323.06,112.26 L323.12,112.66 L323.27,113.04 L323.01,113.49 L323.41,113.83 L323.41,114.23 L323.21,114.67 L323.59,115.01 L323.52,115.43 L323.61,115.82 L323.77,116.20 L323.96,116.57 L324.05,116.96 L323.98,117.38 L324.02,117.78 L324.35,118.12 L324.20,118.56 L324.37,118.93 L324.30,119.36 L324.45,119.73 L324.64,120.10 L324.69,120.50 L324.73,120.90 L324.69,121.32 L324.62,121.75 L324.97,122.08 L325.09,122.46 L325.13,122.86 L325.29,123.24 L325.32,123.64 L325.44,124.02 L325.57,124.40 L325.75,124.77 L325.76,125.18 L325.79,125.59 L325.97,125.95 L325.93,126.38 L326.08,126.75 L326.29,127.11 L326.19,127.55 L326.61,127.85 L326.44,128.31 L326.46,128.72 L326.82,129.04 L326.90,129.43 L326.86,129.85 L326.89,130.26 L327.13,130.61 L327.26,130.99 L327.26,131.40 L327.46,131.76 L327.79,132.09 L327.74,132.52 L327.82,132.91 L328.17,133.23 L327.96,133.70 L328.27,134.03 L328.12,134.49 L328.64,134.75 L328.66,135.16 L328.88,135.51 L328.48,136.06 L328.60,136.44 L328.69,136.84 L328.81,137.22 L329.06,137.56 L329.21,137.94 L329.91,138.08 L329.63,138.64 L329.98,138.91 L330.12,139.29 L330.52,139.51 L330.18,140.22 L330.67,140.36 L331.29,140.38 L331.10,141.06 L331.49,141.24 L331.99,141.32 L332.11,141.76 L332.51,141.91 L333.16,141.76 L333.29,142.19 L333.15,143.01 L333.51,143.20 L333.86,143.41 L334.52,143.14 L334.73,143.54 L334.92,143.99 L335.12,144.43 L335.82,144.03 L336.21,144.11 L336.08,145.24 L336.68,144.95 L337.13,144.92 L337.57,144.90 L337.92,145.09 L337.81,146.39 L338.31,146.24 L338.98,145.65 L339.53,145.32 L339.28,147.12 L339.67,147.23 L340.12,147.17 L340.58,147.10 L341.57,145.53 L341.81,146.02 L341.76,147.36 L342.34,146.93 L342.59,147.42 L343.15,147.03 L343.55,147.07 L343.66,148.00 L344.25,147.49 L344.55,147.88 L344.87,148.17 L345.26,148.27 L345.45,149.01 L345.80,149.27 L346.73,147.55 L346.89,148.40 L347.35,148.26 L347.47,149.31 L348.19,148.19 L348.24,149.54 L348.64,149.59 L349.05,149.61 L349.71,148.65 L349.97,149.27 L350.50,148.77 L350.65,149.87 L350.95,150.34 L351.72,148.74 L352.00,149.30 L352.29,149.84 L352.74,149.67 L352.85,151.14 L353.47,150.09 L353.81,150.44 L354.38,149.58 L354.43,151.48 L355.00,150.60 L355.32,151.09 L355.80,150.69 L356.45,149.23 L356.78,149.66 L357.14,149.94 L357.33,151.22 L357.83,150.60 L358.13,151.31 L358.54,151.28 L358.94,151.31 L359.26,151.84 L359.74,151.39 L360.32,150.18 L360.61,150.91 L360.78,152.58 L361.44,150.75 L361.60,152.49 L361.97,152.75 L362.58,151.25 L362.89,151.95 L363.45,150.80 L363.64,152.36 L364.19,151.34 L364.63,151.02 L364.94,151.71 L365.34,151.72 L365.75,151.69 L366.07,152.28 L366.51,152.08 L366.95,151.79 L367.20,152.96 L367.46,154.04 L368.07,152.45 L368.54,151.97 L368.96,151.82 L369.22,152.97 L369.69,152.43 L370.06,152.67 L370.63,151.32 L370.95,151.97 L371.35,152.00 L371.57,153.51 L372.07,152.71 L372.65,151.22 L372.80,153.33 L373.15,153.83 L373.53,153.99 L374.26,151.18 L374.42,153.28 L374.76,153.79 L375.18,153.69 L375.64,153.15 L376.16,152.11 L376.45,153.10 L376.84,153.22 L377.17,153.89 L377.56,153.98 L378.03,153.41 L378.34,154.21 L378.88,152.93 L379.25,153.24 L379.60,153.73 L379.95,154.20 L380.42,153.62 L380.70,154.74 L381.16,154.22 L381.66,153.32 L381.98,154.08 L382.45,153.45 L382.85,153.44 L383.29,153.16 L383.46,155.17 L383.90,154.88 L384.49,153.18 L384.68,155.11 L385.09,155.05 L385.59,154.17 L385.92,154.82 L386.18,156.08 L386.73,154.76 L387.12,154.90 L387.46,155.43 L388.02,153.97 L388.44,153.85 L388.84,153.79 L389.14,154.76 L389.48,155.46 L389.99,154.29 L390.42,153.98 L390.72,155.12 L391.15,154.76 L391.49,155.48 L391.93,155.01 L392.33,155.00 L392.73,155.11 L393.12,155.22 L393.57,154.56 L393.97,154.47 L394.24,156.40 L394.58,157.47 L395.07,156.12 L395.58,154.22 L395.91,155.41 L396.27,156.24 L396.77,154.30 L397.13,155.11 L397.53,155.19 L397.94,154.85 L398.34,154.93 L398.68,156.24 L399.12,155.24 L399.52,155.41 L399.86,156.79 L400.33,155.01 L400.76,154.27 L401.10,156.08 L401.46,157.05" fill="none" stroke="#000" stroke-width="1.35" stroke-linejoin="round" stroke-linecap="round"/>
<!-- panel_C -->
<text x="0.9" y="232.3" font-size="16.6" text-anchor="start" font-weight="bold" style="stroke-width:0.5px">C</text>
<text x="82.0" y="234.0" font-size="11.5" text-anchor="start" font-weight="normal" textLength="44.4" lengthAdjust="spacingAndGlyphs">Akt-2–/–</text>
<text x="16.4" y="252.8" font-size="11.5" text-anchor="start" font-weight="normal" textLength="110.6" lengthAdjust="spacingAndGlyphs">Thrombin (0.1 U/mL)</text>
<path d="M32.0,257.7 L35.9,260.4 L39.8,257.7 L35.9,268.5 Z" fill="#000"/>
<text x="22.7" y="284.6" font-size="11.5" text-anchor="middle" font-weight="normal">0</text>
<line x1="22.4" y1="289.0" x2="22.4" y2="368.4" stroke="#000" stroke-width="1.1"/>
<path d="M17.6,366.4 L22.4,370.2 L27.2,366.4 L22.4,381.6 Z" fill="#000"/>
<text x="21.7" y="393.4" font-size="11.5" text-anchor="middle" font-weight="normal">50</text>
<text transform="translate(9.0,390.2) rotate(-90)" font-size="11.5" textLength="116.5" lengthAdjust="spacingAndGlyphs">Light transmission (%)</text>
<text x="30.6" y="428.8" font-size="11.5" text-anchor="start" font-weight="normal" textLength="27.6" lengthAdjust="spacingAndGlyphs">1 min</text>
<line x1="38.8" y1="433.3" x2="53.3" y2="433.3" stroke="#000" stroke-width="1.2"/>
<text x="137.2" y="369.7" font-size="11.5" text-anchor="start" font-weight="normal" textLength="38.8" lengthAdjust="spacingAndGlyphs">OxHDL</text>
<text x="135.9" y="420.8" font-size="11.5" text-anchor="start" font-weight="normal" textLength="87.8" lengthAdjust="spacingAndGlyphs">α-SR-BI+OxHDL</text>
<text x="136.9" y="434.2" font-size="11.5" text-anchor="start" font-weight="normal">NA</text>
<path d="M29.6,287.3 L36.8,287.6 L37.5,283 L38.3,288.6" fill="none" stroke="#000" stroke-width="2.3" stroke-linejoin="round"/>
<path d="M30.00,287.50 L30.50,287.68 L31.01,287.36 L31.53,287.02 L32.02,287.31 L32.56,287.04 L32.99,287.72 L33.38,288.55 L34.03,287.53 L34.54,287.53 L34.92,288.27 L35.42,288.28 L35.94,288.23 L36.56,287.72 L36.94,288.36 L37.33,288.89 L38.16,287.85 L38.48,288.55 L39.37,288.02 L39.66,288.63 L40.30,288.66 L40.14,289.75 L40.93,289.60 L40.71,290.63 L41.12,290.92 L41.62,291.12 L42.97,290.50 L42.47,291.69 L42.60,292.26 L42.87,292.69 L43.94,292.40 L43.80,293.20 L44.36,293.37 L44.62,293.81 L44.12,294.93 L45.29,294.54 L45.28,295.23 L45.23,295.97 L46.21,295.72 L46.35,296.29 L46.58,296.75 L46.93,297.11 L47.85,296.99 L47.57,297.87 L47.29,298.75 L48.96,298.04 L48.14,299.33 L48.80,299.45 L49.47,299.57 L48.52,300.93 L49.41,300.87 L50.65,300.56 L50.34,301.42 L50.41,302.00 L51.07,302.12 L50.96,302.83 L51.63,302.95 L51.58,303.62 L51.53,304.30 L52.84,303.91 L52.73,304.63 L53.35,304.78 L53.38,305.39 L54.31,305.30 L54.33,305.92 L54.45,306.46 L54.23,307.25 L54.42,307.74 L55.90,307.24 L55.95,307.83 L55.57,308.75 L57.13,308.19 L56.70,309.14 L56.83,309.68 L56.48,310.56 L57.05,310.76 L57.84,310.80 L58.15,311.18 L58.39,311.63 L57.83,312.66 L59.07,312.38 L59.30,312.83 L59.27,313.46 L59.79,313.71 L60.11,314.09 L60.85,314.20 L60.58,314.98 L61.07,315.26 L60.55,316.21 L61.08,316.45 L61.70,316.64 L61.63,317.29 L62.41,317.37 L62.00,318.25 L62.80,318.31 L62.80,318.92 L64.00,318.68 L63.49,319.66 L64.77,319.34 L65.23,319.61 L64.70,320.63 L65.29,320.81 L65.08,321.60 L64.40,322.76 L66.17,322.02 L66.38,322.49 L66.30,323.19 L66.48,323.69 L67.11,323.82 L67.44,324.20 L67.34,324.93 L67.74,325.25 L68.78,325.02 L68.67,325.77 L68.94,326.20 L69.76,326.14 L69.50,327.04 L70.34,326.96 L69.86,328.07 L70.54,328.12 L70.93,328.45 L71.57,328.53 L71.70,329.09 L72.86,328.67 L72.83,329.38 L72.55,330.37 L73.95,329.66 L73.06,331.28 L74.50,330.50 L73.83,331.94 L74.85,331.57 L74.56,332.63 L75.19,332.67 L76.23,332.25 L75.50,333.84 L75.81,334.26 L76.78,333.90 L77.24,334.13 L77.58,334.50 L78.28,334.45 L77.86,335.72 L78.88,335.29 L79.07,335.84 L79.74,335.81 L80.06,336.21 L80.69,336.23 L80.11,337.72 L81.04,337.38 L81.00,338.22 L81.75,338.09 L82.40,338.07 L82.65,338.56 L83.13,338.76 L83.31,339.34 L83.85,339.47 L84.21,339.81 L85.00,339.61 L85.18,340.18 L84.68,341.66 L85.93,340.85 L86.46,340.97 L86.36,341.94 L86.38,342.76 L87.80,341.67 L87.76,342.57 L88.31,342.66 L89.11,342.40 L88.64,343.91 L89.32,343.83 L89.69,344.16 L90.38,344.05 L90.38,344.93 L91.13,344.72 L91.41,345.20 L92.14,345.01 L92.59,345.23 L92.15,346.78 L93.18,346.14 L93.33,346.82 L93.86,346.93 L94.41,347.00 L94.85,347.24 L94.90,348.09 L95.62,347.89 L95.99,348.23 L96.36,348.58 L96.42,349.44 L97.00,349.45 L97.52,349.56 L98.24,349.34 L98.92,349.17 L98.63,350.63 L99.06,350.90 L99.83,350.58 L100.05,351.18 L100.41,351.56 L100.83,351.84 L101.24,352.13 L102.08,351.66 L101.94,352.94 L103.19,351.74 L103.01,353.09 L103.55,353.14 L103.88,353.58 L104.04,354.35 L104.59,354.38 L105.78,353.22 L106.37,353.17 L106.11,354.73 L107.06,353.99 L107.23,354.75 L107.44,355.44 L108.56,354.34 L109.13,354.32 L108.93,355.81 L109.44,355.92 L109.96,355.99 L110.33,356.36 L111.02,356.10 L111.64,355.97 L111.74,356.91 L112.39,356.70 L113.02,356.55 L112.92,357.93 L113.51,357.83 L113.85,358.30 L114.65,357.75 L115.02,358.13 L115.56,358.15 L115.99,358.42 L116.18,359.21 L116.87,358.88 L117.06,359.70 L117.53,359.89 L117.60,361.02 L118.85,359.31 L118.79,360.77 L119.48,360.41 L119.92,360.64 L120.70,360.02 L120.95,360.75 L121.16,361.60 L121.80,361.32 L122.23,361.59 L122.78,361.56 L122.94,362.55 L123.66,362.07 L124.59,361.03 L124.74,362.06 L125.48,361.52 L126.23,360.99 L126.10,362.70 L126.15,363.92 L126.90,363.39 L127.64,362.90 L128.05,363.22 L128.04,364.56 L128.73,364.21 L129.21,364.34 L129.70,364.47 L130.14,364.71 L130.43,365.33 L130.95,365.38 L131.49,365.38 L132.24,364.88 L132.34,365.93 L133.08,365.46 L133.05,366.61" fill="none" stroke="#000" stroke-width="1.45" stroke-linejoin="round" stroke-linecap="round"/>
<path d="M38.6,288.6 L39.4,281 L40.9,273.8 L42.6,278 L44.2,286 L45.6,292.7" fill="none" stroke="#000" stroke-width="2" stroke-linejoin="round" stroke-linecap="round"/>
<path d="M45.77,292.65 L45.83,292.99 L45.94,293.33 L45.95,293.69 L46.23,293.97 L46.13,294.37 L46.30,294.68 L46.22,295.07 L46.30,295.41 L46.35,295.76 L46.51,296.08 L46.67,296.40 L46.68,296.76 L46.70,297.11 L47.00,297.40 L46.96,297.77 L47.11,298.09 L47.05,298.47 L47.35,298.75 L47.38,299.11 L47.40,299.46 L47.49,299.80 L47.76,300.10 L47.64,300.48 L47.77,300.81 L47.86,301.15 L47.93,301.49 L47.97,301.84 L48.24,302.14 L47.98,302.56 L48.29,302.85 L48.50,303.16 L48.36,303.55 L48.27,303.92 L48.54,304.23 L48.40,304.61 L48.47,304.96 L48.77,305.25 L49.00,305.57 L48.94,305.93 L48.77,306.32 L49.03,306.63 L49.17,306.96 L49.22,307.31 L49.15,307.68 L49.22,308.02 L49.20,308.38 L49.25,308.73 L49.51,309.03 L49.50,309.39 L49.66,309.72 L49.61,310.08 L49.80,310.40 L49.87,310.74 L49.61,311.15 L49.88,311.46 L49.88,311.81 L49.76,312.19 L50.00,312.50 L50.15,312.83 L50.20,313.18 L50.34,313.51 L50.23,313.88 L50.43,314.20 L50.29,314.58 L50.56,314.89 L50.62,315.23 L50.69,315.58 L50.66,315.94 L50.76,316.28 L50.71,316.64 L50.96,316.95 L50.94,317.31 L50.84,317.68 L51.12,317.99 L51.11,318.35 L51.07,318.71 L51.24,319.04 L51.42,319.36 L51.63,319.67 L51.25,320.10 L51.51,320.41 L51.50,320.77 L51.73,321.08 L51.58,321.47 L51.77,321.78 L51.89,322.12 L52.05,322.44 L51.99,322.81 L52.15,323.14 L52.19,323.48 L52.40,323.80 L52.37,324.16 L52.38,324.52 L52.59,324.83 L52.54,325.20 L52.56,325.56 L52.73,325.87 L52.84,326.21 L52.92,326.55 L52.85,326.92 L53.18,327.21 L53.14,327.57 L53.24,327.91 L53.27,328.26 L53.38,328.60 L53.57,328.91 L53.35,329.33 L53.62,329.62 L53.86,329.92 L53.91,330.27 L53.90,330.63 L53.95,330.98 L54.23,331.27 L54.12,331.66 L54.42,331.94 L54.46,332.29 L54.39,332.68 L54.40,333.04 L54.67,333.32 L54.79,333.66 L54.73,334.04 L55.05,334.31 L55.01,334.68 L55.11,335.02 L55.12,335.38 L55.28,335.70 L55.43,336.02 L55.43,336.38 L55.69,336.67 L55.59,337.06 L55.82,337.36 L55.93,337.70 L55.97,338.05 L56.01,338.40 L56.03,338.76 L56.20,339.07 L56.19,339.44 L56.25,339.78 L56.43,340.10 L56.60,340.42 L56.49,340.80 L56.63,341.13 L56.93,341.42 L56.90,341.79 L56.86,342.15 L57.08,342.47 L57.08,342.82 L57.26,343.15 L57.12,343.53 L57.20,343.87 L57.28,344.21 L57.23,344.58 L57.47,344.89 L57.53,345.23 L57.38,345.62 L57.77,345.90 L57.64,346.28 L57.91,346.58 L57.83,346.96 L57.72,347.34 L57.97,347.64 L58.14,347.97 L57.90,348.37 L58.26,348.66 L58.30,349.00 L58.33,349.36 L58.56,349.66 L58.40,350.06 L58.43,350.41 L58.59,350.73 L58.71,351.07 L58.83,351.40 L58.81,351.76 L59.28,352.01 L59.06,352.42 L59.10,352.77 L59.40,353.06 L59.25,353.46 L59.38,353.78 L59.45,354.13 L59.52,354.47 L59.55,354.82 L59.64,355.16 L59.87,355.47 L59.86,355.83 L59.95,356.17 L60.01,356.51 L60.16,356.84 L60.09,357.21 L60.14,357.56 L60.20,357.91 L60.25,358.26 L60.38,358.59 L60.65,358.88 L60.76,359.21 L60.82,359.56 L60.82,359.92 L60.98,360.24 L60.96,360.61 L60.99,360.96 L61.28,361.25 L61.23,361.62 L61.46,361.92 L61.63,362.24 L61.73,362.57 L61.73,362.94 L61.98,363.23 L61.84,363.63 L61.84,364.00 L62.20,364.26 L62.21,364.62 L62.09,365.02 L62.32,365.31 L62.44,365.64 L62.60,365.96 L62.51,366.35 L62.71,366.66 L63.05,366.92 L63.40,367.18 L63.57,367.50 L63.04,368.02 L63.33,368.30 L63.07,368.75 L63.37,369.02 L63.88,369.23 L63.62,369.68 L63.50,370.08 L64.14,370.25 L64.15,370.61 L63.64,371.14 L64.72,371.16 L64.65,371.55 L64.12,372.09 L64.49,372.34 L65.03,372.53 L65.25,372.82 L64.72,373.37 L64.56,373.79 L64.80,374.08 L65.06,374.36 L64.76,374.84 L65.32,375.02 L65.88,375.19 L64.84,375.92 L66.30,375.78 L65.96,376.28 L66.05,376.61 L65.50,377.18 L66.60,377.16 L66.51,377.56 L67.34,377.63 L66.46,378.33 L66.53,378.68 L66.55,379.05 L67.47,379.06 L67.01,379.62 L67.73,379.71 L67.65,380.12 L67.57,380.53 L66.93,381.17 L68.04,381.09 L67.83,381.56 L68.57,381.62 L68.55,382.01 L68.78,382.29 L68.58,382.76 L68.14,383.34 L69.49,383.12 L68.44,383.97 L69.70,383.78 L68.98,384.50 L69.74,384.53 L69.72,384.92 L69.94,385.21 L69.02,386.04 L69.78,386.06 L69.33,386.68 L70.56,386.45 L70.63,386.81 L69.36,387.86 L72.06,386.84 L71.63,387.46 L71.24,388.06 L69.78,389.27 L71.94,388.47 L70.94,389.43 L70.44,390.13 L72.16,389.55 L72.29,389.88 L70.88,391.12 L72.97,390.28 L73.58,390.32 L72.16,391.60 L73.48,391.19 L72.14,392.45 L72.97,392.34 L75.08,391.40 L73.57,392.79 L73.98,392.94 L74.74,392.86 L73.45,394.13 L76.04,392.83 L75.81,393.40 L75.37,394.11 L74.50,395.12 L76.63,394.11 L76.07,394.90 L76.34,395.15 L77.19,394.99 L76.46,395.91 L77.29,395.76 L76.91,396.44 L76.51,397.15 L77.69,396.74 L77.86,397.04 L78.16,397.25 L78.25,397.61 L79.03,397.45 L78.93,397.96 L78.11,399.03 L79.11,398.68 L76.10,401.57 L79.48,399.24 L78.74,400.33 L80.45,399.30 L79.75,400.38 L80.19,400.45 L80.07,401.03 L79.27,402.25 L80.61,401.48 L81.60,401.01 L80.88,402.19 L81.90,401.67 L81.54,402.52 L80.58,403.99 L81.29,403.78 L81.45,404.13 L82.08,403.98 L82.72,403.81 L84.00,402.92 L83.54,403.95 L83.83,404.14 L83.29,405.28 L83.35,405.76 L83.96,405.59 L85.05,404.85 L83.62,407.10 L84.17,407.00 L85.48,405.96 L85.49,406.50 L85.49,407.07 L86.10,406.87 L86.50,406.93 L86.41,407.61 L86.98,407.44 L87.15,407.80 L88.50,406.55 L88.77,406.75 L87.11,409.68 L89.27,407.21 L88.42,409.06 L88.81,409.12 L89.16,409.23 L89.94,408.65 L89.33,410.28 L89.99,409.90 L90.64,409.49 L91.48,408.75 L91.19,409.94 L91.67,409.80 L92.30,409.39 L91.79,410.99 L92.00,411.34 L92.19,411.73 L92.84,411.28 L93.32,411.12 L92.98,412.51 L93.47,412.35 L93.08,413.88 L94.19,412.49 L95.17,411.32 L94.64,413.18 L94.36,414.57 L95.57,412.87 L96.09,412.61 L96.58,412.39 L95.84,414.81 L97.04,413.06 L97.38,413.15 L97.47,413.80 L98.49,412.36 L98.34,413.55 L99.06,412.78 L98.93,413.95 L99.01,414.68 L99.17,415.21 L100.00,414.10 L99.86,415.38 L100.64,414.39 L101.43,413.34 L100.93,415.55 L101.54,414.95 L101.75,415.38 L103.07,412.96 L102.37,415.73 L102.68,415.89 L103.01,416.02 L103.05,416.89 L103.88,415.70 L103.33,418.18 L104.15,416.97 L104.54,416.93 L105.91,414.18 L106.06,414.80 L105.21,418.19 L105.92,417.26 L106.07,417.89 L106.83,416.77 L107.08,417.13 L107.18,417.92 L107.95,416.73 L107.61,418.85 L108.71,416.65 L108.63,418.03 L109.11,417.67 L109.25,418.38 L109.32,419.34 L110.36,417.18 L110.23,418.80 L110.66,418.58 L110.79,419.38 L111.37,418.65 L111.84,418.30 L111.90,419.35 L112.02,420.25 L112.50,419.85 L113.01,419.30 L113.28,419.66 L114.12,417.84 L114.20,418.90 L114.47,419.26 L114.88,419.07 L115.25,418.99 L115.44,419.71 L115.68,420.23 L115.66,421.81 L116.61,419.32 L117.00,419.20 L116.90,421.13 L117.44,420.39 L118.01,419.45 L117.81,421.89 L118.54,420.27 L118.91,420.23 L119.32,420.03 L119.72,419.80 L119.84,420.88 L120.41,419.92 L120.03,423.32 L120.82,421.32 L121.29,420.82 L121.74,420.38 L121.87,421.45 L122.07,422.25 L122.56,421.57 L123.18,420.28 L123.34,421.24 L123.97,419.86 L123.72,423.01 L124.20,422.33 L124.64,421.93 L124.97,422.08 L125.47,421.29 L125.74,421.77 L125.89,422.92 L126.41,421.99 L126.65,422.68 L127.06,422.37 L127.40,422.44 L127.73,422.58 L127.97,423.35 L128.52,422.09 L128.72,423.10 L129.28,421.70 L129.60,421.96 L129.96,421.88 L130.09,423.48 L130.59,422.38 L130.75,423.95 L131.38,421.76 L131.55,423.20 L132.08,421.71 L132.17,424.02 L132.56,422.23" fill="none" stroke="#000" stroke-width="1.5" stroke-linejoin="round" stroke-linecap="round"/>
<path d="M45.68,292.68 L45.65,293.05 L45.91,293.35 L45.76,293.74 L45.79,294.09 L46.01,294.40 L46.00,294.76 L46.09,295.10 L46.22,295.43 L46.33,295.77 L46.51,296.09 L46.24,296.50 L46.45,296.81 L46.26,297.20 L46.50,297.52 L46.61,297.85 L46.77,298.18 L46.63,298.56 L46.88,298.87 L46.74,299.25 L46.99,299.56 L46.99,299.92 L47.22,300.23 L46.90,300.64 L47.20,300.95 L47.29,301.29 L47.23,301.65 L47.46,301.97 L47.35,302.34 L47.60,302.65 L47.49,303.03 L47.71,303.34 L47.85,303.68 L47.78,304.04 L47.93,304.37 L47.79,304.75 L47.89,305.09 L47.90,305.44 L48.00,305.78 L48.09,306.12 L48.11,306.47 L48.06,306.83 L48.23,307.16 L48.34,307.50 L48.41,307.84 L48.38,308.20 L48.48,308.54 L48.26,308.92 L48.61,309.23 L48.64,309.58 L48.61,309.93 L48.55,310.29 L48.69,310.63 L48.79,310.97 L48.82,311.32 L48.81,311.67 L48.71,312.03 L48.94,312.36 L48.88,312.72 L48.96,313.07 L48.90,313.42 L48.92,313.77 L49.13,314.11 L48.78,314.48 L49.02,314.82 L49.12,315.16 L49.18,315.51 L49.15,315.86 L49.14,316.21 L49.11,316.56 L49.20,316.91 L49.17,317.26 L49.41,317.60 L49.35,317.95 L49.40,318.30 L49.30,318.66 L49.30,319.01 L49.51,319.34 L49.41,319.70 L49.34,320.06 L49.35,320.41 L49.57,320.74 L49.43,321.11 L49.48,321.45 L49.58,321.80 L49.36,322.16 L49.69,322.49 L49.63,322.85 L49.59,323.20 L49.63,323.55 L49.70,323.89 L49.57,324.25 L49.59,324.60 L49.67,324.95 L49.68,325.30 L49.81,325.64 L49.95,325.98 L49.64,326.36 L49.99,326.68 L49.70,327.06 L49.96,327.38 L49.95,327.74 L50.02,328.08 L49.94,328.44 L50.12,328.78 L49.92,329.14 L50.08,329.48 L50.15,329.83 L50.25,330.17 L50.20,330.53 L50.26,330.87 L50.10,331.24 L50.23,331.58 L50.51,331.90 L50.24,332.28 L50.66,332.59 L50.31,332.98 L50.68,333.29 L50.53,333.66 L50.48,334.01 L50.60,334.35 L50.74,334.69 L50.54,335.06 L50.88,335.38 L50.88,335.73 L50.63,336.11 L50.89,336.43 L50.82,336.79 L50.80,337.15 L50.93,337.49 L50.92,337.84 L50.98,338.19 L51.00,338.53 L50.94,338.89 L51.01,339.24 L51.10,339.58 L51.08,339.93 L51.26,340.27 L51.32,340.61 L51.39,340.96 L51.25,341.32 L51.20,341.68 L51.39,342.01 L51.64,342.34 L51.53,342.70 L51.47,343.06 L51.53,343.41 L51.58,343.75 L51.53,344.11 L51.58,344.46 L51.84,344.78 L51.71,345.15 L51.86,345.48 L51.80,345.84 L51.74,346.20 L51.72,346.55 L51.88,346.89 L52.04,347.22 L52.06,347.57 L52.01,347.93 L52.20,348.26 L52.15,348.62 L52.12,348.97 L52.13,349.33 L52.30,349.66 L52.27,350.02 L52.21,350.37 L52.36,350.71 L52.60,351.03 L52.45,351.40 L52.49,351.75 L52.60,352.09 L52.59,352.44 L52.79,352.77 L52.56,353.15 L52.68,353.49 L52.82,353.83 L52.79,354.18 L52.84,354.53 L52.99,354.86 L53.21,355.19 L53.27,355.53 L52.83,355.94 L53.19,356.25 L53.16,356.61 L53.12,356.96 L53.25,357.30 L53.15,357.67 L53.41,357.98 L53.31,358.35 L53.62,358.66 L53.39,359.05 L53.44,359.39 L53.52,359.74 L53.58,360.08 L53.64,360.43 L53.63,360.78 L53.67,361.13 L53.91,361.45 L53.77,361.82 L54.02,362.14 L53.96,362.50 L54.06,362.84 L54.03,363.20 L54.18,363.53 L54.14,363.89 L54.31,364.22 L54.43,364.55 L54.20,364.94 L54.33,365.28 L54.39,365.62 L54.37,365.98 L54.77,366.27 L54.48,366.67 L54.91,366.95 L54.69,367.35 L54.87,367.67 L54.83,368.03 L54.80,368.40 L55.02,368.71 L55.31,369.01 L54.93,369.44 L54.92,369.80 L55.12,370.12 L55.09,370.49 L55.95,370.65 L55.50,371.11 L55.64,371.44 L56.30,371.64 L55.74,372.14 L55.85,372.47 L56.46,372.68 L56.33,373.07 L56.09,373.49 L55.98,373.89 L56.03,374.24 L56.84,374.37 L56.93,374.71 L56.80,375.11 L56.71,375.50 L57.05,375.76 L56.98,376.15 L56.66,376.62 L56.77,376.95 L57.14,377.20 L57.90,377.32 L57.69,377.75 L57.24,378.28 L57.18,378.67 L57.18,379.04 L58.51,378.94 L58.29,379.39 L58.86,379.55 L60.07,379.47 L59.07,380.22 L59.64,380.37 L57.71,381.49 L58.44,381.58 L59.33,381.61 L58.97,382.13 L58.85,382.55 L58.00,383.29 L58.83,383.32 L58.39,383.90 L59.31,383.89 L58.80,384.50 L58.81,384.88 L59.35,385.03 L60.23,385.01 L59.47,385.75 L60.90,385.47 L59.44,386.56 L61.10,386.15 L61.63,386.27 L59.41,387.77 L61.71,387.01 L61.32,387.60 L62.68,387.29 L62.50,387.78 L62.31,388.27 L63.13,388.22 L61.06,389.74 L63.19,388.97 L63.89,388.98 L61.69,390.62 L62.27,390.70 L65.47,389.25 L63.89,390.56 L62.53,391.78 L64.45,391.04 L64.14,391.63 L64.29,391.95 L66.44,391.00 L65.29,392.14 L63.88,393.46 L63.42,394.19 L65.07,393.52 L65.29,393.79 L64.86,394.51 L65.43,394.55 L65.30,395.06 L66.81,394.43 L66.17,395.32 L65.92,395.92 L66.04,396.27 L68.24,395.09 L66.25,397.00 L67.12,396.79 L67.29,397.10 L69.25,396.02 L67.83,397.57 L69.50,396.68 L70.55,396.26 L68.44,398.43 L68.75,398.63 L68.92,398.94 L69.05,399.30 L69.43,399.43 L68.73,400.54 L69.22,400.59 L68.80,401.50 L68.31,402.49 L70.00,401.33 L70.23,401.61 L69.60,402.77 L72.07,400.72 L71.88,401.42 L71.69,402.14 L73.35,400.84 L71.66,403.23 L71.47,404.00 L73.88,401.77 L73.80,402.38 L72.80,404.11 L72.74,404.73 L75.22,402.28 L73.89,404.46 L74.71,404.01 L76.15,402.74 L75.41,404.24 L75.79,404.31 L75.60,405.14 L75.92,405.29 L76.42,405.21 L76.60,405.55 L76.90,405.73 L76.73,406.56 L76.72,407.19 L77.02,407.39 L78.52,405.84 L78.74,406.12 L78.95,406.43 L77.92,408.63 L78.81,407.92 L79.87,406.89 L80.40,406.68 L80.60,407.01 L80.29,408.21 L81.25,407.26 L80.91,408.52 L80.45,410.05 L81.66,408.62 L81.34,409.91 L82.98,407.69 L82.24,409.75 L82.58,409.85 L83.55,408.79 L82.62,411.29 L83.67,410.04 L84.34,409.51 L84.45,410.07 L84.11,411.51 L85.62,409.27 L85.15,411.00 L86.03,410.00 L85.75,411.38 L86.44,410.75 L86.53,411.37 L86.44,412.39 L87.10,411.79 L87.18,412.47 L87.43,412.77 L87.89,412.61 L88.30,412.56 L88.70,412.51 L88.76,413.27 L88.83,414.01 L88.87,414.83 L89.24,414.88 L90.77,412.08 L90.54,413.58 L90.78,413.92 L90.80,414.83 L91.20,414.79 L92.55,412.24 L92.18,414.20 L93.31,412.18 L93.14,413.64 L93.64,413.27 L93.84,413.73 L93.32,416.22 L94.47,414.04 L94.78,414.20 L94.88,414.99 L94.86,416.14 L96.22,413.23 L95.32,416.97 L96.53,414.47 L96.94,414.33 L96.87,415.66 L97.01,416.37 L96.63,418.70 L97.60,416.83 L98.45,415.30 L98.65,415.83 L99.24,415.11 L99.03,416.98 L99.31,417.28 L100.03,416.10 L99.88,417.82 L101.15,414.81 L101.08,416.24 L101.57,415.85 L101.79,416.32 L102.47,415.26 L101.96,418.22 L102.91,416.21 L102.98,417.21 L102.90,418.77 L103.10,419.33 L103.58,418.96 L104.99,415.27 L104.72,417.50 L105.07,417.55 L105.51,417.27 L105.88,417.25 L106.14,417.60 L106.13,418.96 L106.79,417.88 L107.39,416.99 L107.79,416.82 L107.62,418.83 L108.51,416.84 L108.13,419.63 L108.82,418.39 L109.16,418.46 L109.29,419.37 L109.80,418.80 L109.83,420.08 L110.73,417.94 L111.22,417.43 L110.50,421.74 L111.34,419.82 L112.44,416.83 L111.61,421.70 L112.79,418.30 L112.20,422.27 L112.60,422.09 L113.20,421.12 L113.77,420.22 L114.34,419.31 L114.20,421.45 L114.90,420.00 L114.85,421.75 L115.55,420.29 L116.22,418.91 L116.34,419.97 L116.48,420.91 L116.96,420.37 L117.15,421.15 L117.75,420.03 L117.46,422.97 L118.34,420.64 L118.42,421.89 L119.30,419.49 L119.03,422.39 L119.20,423.28 L119.77,422.29 L120.32,421.40 L120.82,420.70 L120.80,422.51 L121.15,422.56 L121.93,420.50 L121.96,422.06 L122.18,422.73 L122.84,421.31 L122.86,422.95 L123.40,422.02 L123.35,424.04 L124.31,421.03 L124.25,423.13 L124.69,422.74 L125.47,420.55 L125.61,421.68 L125.93,421.83 L125.88,423.93 L126.51,422.53 L126.78,422.99 L127.09,423.24 L126.91,426.06 L127.86,422.92 L127.75,425.46 L128.53,423.11 L129.16,421.59 L129.35,422.52 L129.78,422.09 L129.95,423.14 L130.51,421.96 L130.74,422.64 L130.54,425.92 L131.21,424.07 L131.53,424.24 L131.60,425.99 L132.60,422.09 L132.39,424.65" fill="none" stroke="#000" stroke-width="1.6" stroke-linejoin="round" stroke-linecap="round"/>
<!-- panel_D -->
<text x="271.1" y="229.4" font-size="16.6" text-anchor="start" font-weight="bold" style="stroke-width:0.5px">D</text>
<line x1="306.8" y1="244.2" x2="306.8" y2="406.4" stroke="#000" stroke-width="1.2"/>
<line x1="306.8" y1="244.8" x2="311.2" y2="244.8" stroke="#000" stroke-width="1.1"/>
<text x="301.5" y="251.0" font-size="11.4" text-anchor="end" font-weight="normal">100</text>
<line x1="306.8" y1="276.8" x2="311.2" y2="276.8" stroke="#000" stroke-width="1.1"/>
<text x="301.6" y="280.7" font-size="11.4" text-anchor="end" font-weight="normal">80</text>
<line x1="306.8" y1="308.5" x2="311.2" y2="308.5" stroke="#000" stroke-width="1.1"/>
<text x="301.7" y="312.4" font-size="11.4" text-anchor="end" font-weight="normal">60</text>
<line x1="306.8" y1="340.2" x2="311.2" y2="340.2" stroke="#000" stroke-width="1.1"/>
<text x="301.9" y="344.1" font-size="11.4" text-anchor="end" font-weight="normal">40</text>
<line x1="306.8" y1="372.2" x2="311.2" y2="372.2" stroke="#000" stroke-width="1.1"/>
<text x="302.4" y="375.9" font-size="11.4" text-anchor="end" font-weight="normal">20</text>
<line x1="306.8" y1="405.8" x2="311.2" y2="405.8" stroke="#000" stroke-width="1.1"/>
<text x="302.4" y="407.0" font-size="11.4" text-anchor="end" font-weight="normal">0</text>
<text transform="translate(282.7,388.8) rotate(-90)" font-size="11.5" textLength="127.6" lengthAdjust="spacingAndGlyphs">Maximum amplitude (%)</text>
<text x="324.2" y="255.0" font-size="11.5" text-anchor="start" font-weight="normal" textLength="48.4" lengthAdjust="spacingAndGlyphs">eNOS–/–</text>
<line x1="318.0" y1="260.5" x2="378.8" y2="260.5" stroke="#000" stroke-width="1.1"/>
<text x="395.5" y="255.0" font-size="11.5" text-anchor="start" font-weight="normal" textLength="43.7" lengthAdjust="spacingAndGlyphs">Akt-1–/–</text>
<line x1="387.5" y1="260.5" x2="447.0" y2="260.5" stroke="#000" stroke-width="1.1"/>
<text x="466.2" y="255.0" font-size="11.5" text-anchor="start" font-weight="normal" textLength="43.7" lengthAdjust="spacingAndGlyphs">Akt-2–/–</text>
<line x1="456.0" y1="260.5" x2="520.0" y2="260.5" stroke="#000" stroke-width="1.1"/>
<rect x="322.7" y="277.0" width="12.5" height="129.1" fill="#000"/>
<line x1="328.9" y1="277.5" x2="328.9" y2="270.9" stroke="#000" stroke-width="1.1"/>
<line x1="324.6" y1="270.9" x2="333.2" y2="270.9" stroke="#000" stroke-width="1.1"/>
<text transform="translate(331.8,414.3) rotate(-45)" text-anchor="end" font-size="11.5">NA</text>
<rect x="342.4" y="353.0" width="12.6" height="53.1" fill="#000"/>
<line x1="348.7" y1="353.5" x2="348.7" y2="342.5" stroke="#000" stroke-width="1.1"/>
<line x1="344.4" y1="342.5" x2="353.0" y2="342.5" stroke="#000" stroke-width="1.1"/>
<circle cx="346.40" cy="336.5" r="1.2" fill="#000"/>
<circle cx="351.00" cy="336.5" r="1.2" fill="#000"/>
<text transform="translate(353.2,415.5) rotate(-45)" text-anchor="end" font-size="11.5" textLength="38.0" lengthAdjust="spacingAndGlyphs">OxHDL</text>
<rect x="362.2" y="280.5" width="13.6" height="125.6" fill="#000"/>
<line x1="369.0" y1="281.0" x2="369.0" y2="272.0" stroke="#000" stroke-width="1.1"/>
<line x1="364.7" y1="272.0" x2="373.3" y2="272.0" stroke="#000" stroke-width="1.1"/>
<g transform="translate(373.5,414.5) rotate(-45)" text-anchor="start" font-size="11.5"><text x="-48.0" y="0" textLength="48.0" lengthAdjust="spacingAndGlyphs">α-SR-BI+</text><text x="-48.0" y="11.6" textLength="38.0" lengthAdjust="spacingAndGlyphs">OxHDL</text></g>
<rect x="390.0" y="325.0" width="13.0" height="81.1" fill="#000"/>
<line x1="396.5" y1="325.5" x2="396.5" y2="316.0" stroke="#000" stroke-width="1.1"/>
<line x1="392.2" y1="316.0" x2="400.8" y2="316.0" stroke="#000" stroke-width="1.1"/>
<text transform="translate(399.3,415.1) rotate(-45)" text-anchor="end" font-size="11.5">NA</text>
<rect x="410.0" y="373.0" width="13.0" height="33.1" fill="#000"/>
<line x1="416.5" y1="373.5" x2="416.5" y2="358.9" stroke="#000" stroke-width="1.1"/>
<line x1="412.2" y1="358.9" x2="420.8" y2="358.9" stroke="#000" stroke-width="1.1"/>
<circle cx="416.50" cy="351.4" r="1.2" fill="#000"/>
<text transform="translate(421.6,416.3) rotate(-45)" text-anchor="end" font-size="11.5" textLength="38.0" lengthAdjust="spacingAndGlyphs">OxHDL</text>
<rect x="430.0" y="334.0" width="14.0" height="72.1" fill="#000"/>
<line x1="437.0" y1="334.5" x2="437.0" y2="328.0" stroke="#000" stroke-width="1.1"/>
<line x1="432.7" y1="328.0" x2="441.3" y2="328.0" stroke="#000" stroke-width="1.1"/>
<g transform="translate(442.7,415.3) rotate(-45)" text-anchor="start" font-size="11.5"><text x="-48.0" y="0" textLength="48.0" lengthAdjust="spacingAndGlyphs">α-SR-BI+</text><text x="-48.0" y="11.6" textLength="38.0" lengthAdjust="spacingAndGlyphs">OxHDL</text></g>
<rect x="459.5" y="286.0" width="13.0" height="120.1" fill="#000"/>
<line x1="466.0" y1="286.5" x2="466.0" y2="280.5" stroke="#000" stroke-width="1.1"/>
<line x1="461.7" y1="280.5" x2="470.3" y2="280.5" stroke="#000" stroke-width="1.1"/>
<text transform="translate(468.8,415.1) rotate(-45)" text-anchor="end" font-size="11.5">NA</text>
<rect x="480.0" y="340.5" width="13.0" height="65.6" fill="#000"/>
<line x1="486.5" y1="341.0" x2="486.5" y2="329.9" stroke="#000" stroke-width="1.1"/>
<line x1="482.2" y1="329.9" x2="490.8" y2="329.9" stroke="#000" stroke-width="1.1"/>
<circle cx="484.20" cy="321.4" r="1.2" fill="#000"/>
<circle cx="488.80" cy="321.4" r="1.2" fill="#000"/>
<text transform="translate(491.6,416.3) rotate(-45)" text-anchor="end" font-size="11.5" textLength="38.0" lengthAdjust="spacingAndGlyphs">OxHDL</text>
<rect x="501.0" y="293.0" width="13.0" height="113.1" fill="#000"/>
<line x1="507.5" y1="293.5" x2="507.5" y2="287.5" stroke="#000" stroke-width="1.1"/>
<line x1="503.2" y1="287.5" x2="511.8" y2="287.5" stroke="#000" stroke-width="1.1"/>
<g transform="translate(513.2,415.3) rotate(-45)" text-anchor="start" font-size="11.5"><text x="-48.0" y="0" textLength="48.0" lengthAdjust="spacingAndGlyphs">α-SR-BI+</text><text x="-48.0" y="11.6" textLength="38.0" lengthAdjust="spacingAndGlyphs">OxHDL</text></g>
<!-- panel_E -->
<text x="1.0" y="489.8" font-size="16.6" text-anchor="start" font-weight="bold" style="stroke-width:0.5px">E</text>
<text x="25.0" y="494.3" font-size="11.5" text-anchor="start" font-weight="normal" textLength="108.8" lengthAdjust="spacingAndGlyphs">Thrombin (0.1 U/mL)</text>
<text x="24.4" y="506.5" font-size="11.5" text-anchor="start" font-weight="normal" textLength="89.4" lengthAdjust="spacingAndGlyphs">or PMA (100 nM)</text>
<path d="M38.9,510.6 L42.7,513.2 L46.5,510.6 L42.7,521.2 Z" fill="#000"/>
<text x="22.7" y="528.4" font-size="11.5" text-anchor="middle" font-weight="normal">0</text>
<line x1="22.4" y1="532.5" x2="22.4" y2="625.5" stroke="#000" stroke-width="1.1"/>
<path d="M17.6,623.5 L22.4,627.1 L27.2,623.5 L22.4,638.0 Z" fill="#000"/>
<text x="21.7" y="649.4" font-size="11.5" text-anchor="middle" font-weight="normal">50</text>
<text transform="translate(10.2,633.0) rotate(-90)" font-size="11.5" textLength="115.0" lengthAdjust="spacingAndGlyphs">Light transmission (%)</text>
<text x="42.6" y="688.2" font-size="11.5" text-anchor="start" font-weight="normal" textLength="27.5" lengthAdjust="spacingAndGlyphs">1 min</text>
<line x1="39.0" y1="694.0" x2="77.0" y2="694.0" stroke="#000" stroke-width="1.1"/>
<text x="203.8" y="566.8" font-size="11.5" text-anchor="start" font-weight="normal" textLength="44.6" lengthAdjust="spacingAndGlyphs">OxHDL+</text>
<text x="204.2" y="578.4" font-size="11.5" text-anchor="start" font-weight="normal" textLength="48.8" lengthAdjust="spacingAndGlyphs">Thrombin</text>
<text x="203.8" y="654.1" font-size="11.5" text-anchor="start" font-weight="normal" textLength="44.8" lengthAdjust="spacingAndGlyphs">OxHDL+</text>
<text x="203.7" y="666.0" font-size="11.5" text-anchor="start" font-weight="normal" textLength="24.8" lengthAdjust="spacingAndGlyphs">PMA</text>
<text x="203.7" y="678.4" font-size="11.5" text-anchor="start" font-weight="normal" textLength="24.8" lengthAdjust="spacingAndGlyphs">PMA</text>
<text x="204.0" y="692.0" font-size="11.5" text-anchor="start" font-weight="normal" textLength="49.0" lengthAdjust="spacingAndGlyphs">Thrombin</text>
<path d="M32.3,530 L44.4,530" fill="none" stroke="#000" stroke-width="2.7"/>
<path d="M43.85,530.14 L44.28,529.86 L44.65,529.52 L45.17,529.37 L45.50,528.97 L45.95,528.73 L46.43,528.56 L46.85,528.29 L47.23,527.97 L47.55,527.54 L47.94,527.22 L48.36,526.94 L48.84,526.76 L49.31,526.58 L49.73,526.23 L50.25,526.09 L50.77,526.36 L51.27,525.93 L51.77,526.26 L52.27,526.39 L52.77,526.10 L53.27,526.08 L53.77,526.15 L54.23,526.49 L54.74,526.53 L55.37,526.51 L55.60,527.06 L55.77,527.61 L56.11,527.96 L56.49,528.29 L56.94,528.57 L57.50,528.76 L57.48,529.41 L57.84,529.77 L58.09,530.20 L58.15,530.78 L58.67,531.02 L58.93,531.44 L59.13,531.90 L59.52,532.26 L59.81,532.67 L60.04,533.12 L59.97,533.70 L60.21,534.14 L60.59,534.52 L60.47,535.11 L60.84,535.50 L61.31,535.85 L61.13,536.46 L61.45,536.87 L61.85,537.25 L61.69,537.85 L62.03,538.25 L62.23,538.71 L62.23,539.25 L62.94,539.49 L62.97,540.02 L63.02,540.55 L63.11,541.05 L63.50,541.42 L63.79,541.82 L64.05,542.25 L64.13,542.78 L64.23,543.29 L64.85,543.52 L65.21,543.89 L65.15,544.50 L65.42,544.92 L65.77,545.29 L65.77,545.87 L66.01,546.32 L66.51,546.59 L66.74,547.04 L66.87,547.55 L67.32,547.85 L67.76,548.15 L67.84,548.71 L68.27,549.00 L68.39,549.55 L68.83,549.83 L69.11,550.25 L69.34,550.71 L69.78,550.99 L70.20,551.28 L70.60,551.59 L70.56,552.33 L71.01,552.59 L71.73,552.56 L72.03,552.96 L72.18,553.54 L72.71,553.70 L73.01,554.11 L73.30,554.56 L73.77,554.76 L74.20,555.03 L74.64,555.28 L74.99,555.64 L75.35,556.01 L75.61,556.51 L76.10,556.68 L76.66,556.74 L76.97,557.19 L77.48,557.32 L78.07,557.30 L78.36,557.79 L78.68,558.23 L79.28,558.20 L79.56,558.71 L80.12,558.74 L80.53,559.03 L81.09,559.04 L81.24,559.85 L81.83,559.78 L82.24,560.10 L82.82,560.04 L83.35,560.05 L83.61,560.74 L84.21,560.57 L84.51,561.19 L85.11,561.02 L85.47,561.52 L86.09,561.23 L86.62,561.17 L86.97,561.78 L87.50,561.76 L87.98,561.90 L88.41,562.23 L88.99,561.97 L89.49,562.01 L89.97,562.14 L90.48,562.15 L90.97,562.23 L91.44,562.44 L91.91,562.60 L92.38,562.79 L92.90,562.74 L93.35,563.04 L93.82,563.30 L94.34,563.19 L94.82,563.40 L95.35,563.21 L95.81,563.53 L96.30,563.64 L96.82,563.49 L97.34,563.38 L97.80,563.72 L98.29,563.82 L98.75,564.16 L99.29,563.87 L99.74,564.33 L100.34,563.60 L100.78,564.07 L101.28,564.10 L101.77,564.18 L102.27,564.21 L102.76,564.36 L103.22,564.75 L103.75,564.45 L104.22,564.77 L104.75,564.57 L105.24,564.66 L105.79,564.22 L106.24,564.76 L106.72,564.91 L107.25,564.61 L107.74,564.76 L108.24,564.75 L108.69,565.38 L109.24,564.81 L109.73,564.90 L110.26,564.54 L110.74,564.80 L111.22,565.18 L111.73,564.92 L112.25,564.66 L112.72,565.18 L113.21,565.29 L113.71,565.35 L114.21,565.40 L114.72,565.24 L115.18,565.94 L115.72,565.31 L116.20,565.54 L116.72,565.23 L117.21,565.38 L117.72,565.23 L118.20,565.60 L118.71,565.51 L119.21,565.41 L119.72,565.24 L120.20,565.76 L120.70,565.83 L121.20,565.85 L121.70,565.69 L122.20,565.86 L122.70,565.91 L123.20,565.84 L123.70,566.04 L124.20,565.73 L124.70,565.80 L125.20,565.46 L125.70,566.18 L126.20,565.62 L126.70,565.83 L127.20,565.89 L127.70,565.60 L128.20,565.75 L128.70,565.89 L129.20,565.73 L129.70,565.69 L130.20,565.68 L130.70,565.60 L131.20,565.70 L131.70,565.80 L132.20,565.81 L132.70,565.93 L133.20,565.71 L133.70,565.59 L134.20,565.85 L134.70,565.75 L135.20,565.87 L135.70,565.70 L136.20,565.76 L136.70,565.72 L137.20,565.77 L137.69,565.43 L138.20,565.59 L138.70,565.63 L139.21,565.92 L139.70,565.56 L140.20,565.65 L140.70,565.51 L141.19,565.13 L141.70,565.77 L142.20,565.64 L142.70,565.74 L143.19,565.21 L143.70,565.52 L144.20,565.49 L144.69,565.13 L145.20,565.52 L145.69,565.29 L146.20,565.49 L146.69,565.05 L147.19,565.19 L147.69,565.21 L148.19,565.03 L148.69,565.33 L149.20,565.56 L149.69,565.29 L150.20,565.40 L150.70,565.55 L151.20,565.35 L151.69,565.15 L152.18,564.83 L152.69,565.25 L153.19,565.10 L153.69,565.05 L154.20,565.26 L154.70,565.20 L155.17,564.76 L155.69,565.09 L156.18,564.95 L156.70,565.16 L157.19,564.95 L157.70,565.11 L158.18,564.77 L158.68,564.79 L159.18,564.73 L159.68,564.77 L160.18,564.73 L160.69,564.98 L161.17,564.52 L161.68,564.69 L162.16,564.41 L162.66,564.32 L163.17,564.46 L163.65,564.24 L164.17,564.54 L164.66,564.33 L165.16,564.33 L165.67,564.49 L166.19,564.67 L166.66,564.23 L167.14,563.91 L167.66,564.18 L168.16,564.23 L168.68,564.42 L169.16,564.15 L169.65,563.95 L170.17,564.28 L170.67,564.27 L171.15,563.99 L171.66,564.05 L172.16,564.03 L172.68,564.44 L173.14,563.78 L173.64,563.79 L174.15,563.82 L174.66,563.95 L175.14,563.72 L175.65,563.85 L176.16,563.90 L176.67,564.09 L177.14,563.64 L177.64,563.58 L178.14,563.54 L178.62,563.21 L179.13,563.32 L179.64,563.55 L180.14,563.53 L180.67,563.98 L181.15,563.68 L181.65,563.56 L182.15,563.67 L182.63,563.22 L183.13,563.21 L183.63,563.15 L184.13,563.24 L184.66,563.67 L185.13,563.16 L185.62,563.06 L186.13,563.16 L186.64,563.29 L187.13,563.19 L187.64,563.24 L188.11,562.80 L188.62,562.84 L189.12,562.94 L189.63,562.98 L190.14,563.20 L190.61,562.65 L191.13,563.00 L191.62,562.80 L192.13,562.94 L192.61,562.66 L193.10,562.49 L193.63,562.97 L194.12,562.77 L194.60,562.30 L195.12,562.79 L195.60,562.43 L196.11,562.58 L196.61,562.57 L197.10,562.28 L197.62,562.74 L197.99,562.39" fill="none" stroke="#000" stroke-width="1.55" stroke-linejoin="round" stroke-linecap="round"/>
<path d="M44.00,530.30 L44.36,530.08 L44.61,529.77 L44.75,529.36 L45.04,529.08 L45.30,528.78 L45.67,528.58 L45.92,528.27 L46.28,528.08 L46.45,527.63 L46.97,527.70 L47.23,527.36 L47.62,527.23 L47.93,526.96 L48.28,526.76 L48.67,526.66 L49.05,526.56 L49.41,526.35 L49.81,526.29 L50.21,526.37 L50.61,526.21 L51.01,526.15 L51.41,526.34 L51.81,526.23 L52.21,526.11 L52.61,526.22 L53.01,526.25 L53.41,526.18 L53.81,526.15 L54.21,526.30 L54.61,526.39 L55.01,526.28 L55.41,526.23 L55.81,526.34 L56.17,526.46 L56.55,526.57 L56.80,526.90 L57.02,527.23 L57.37,527.46 L57.65,527.75 L57.78,528.15 L58.01,528.48 L58.15,528.86 L58.56,529.07 L58.72,529.44 L58.95,529.77 L59.24,530.06 L59.29,530.50 L59.45,530.87 L59.74,531.17 L59.73,531.62 L59.94,531.96 L60.12,532.32 L60.30,532.68 L60.41,533.07 L60.77,533.35 L60.74,533.79 L60.88,534.16 L61.25,534.45 L61.19,534.90 L61.39,535.25 L61.44,535.67 L61.69,536.00 L61.79,536.39 L61.90,536.77 L62.15,537.11 L62.15,537.53 L62.36,537.88 L62.44,538.28 L62.68,538.62 L62.67,539.05 L62.86,539.40 L63.08,539.75 L63.16,540.15 L63.25,540.54 L63.36,540.93 L63.83,541.17 L63.76,541.63 L63.96,541.98 L64.17,542.33 L64.41,542.66 L64.36,543.11 L64.76,543.38 L64.75,543.82 L64.84,544.22 L65.27,544.47 L65.31,544.88 L65.56,545.21 L65.58,545.64 L65.63,546.06 L65.74,546.44 L66.25,546.65 L66.31,547.07 L66.35,547.48 L66.43,547.89 L66.70,548.20 L66.97,548.52 L67.04,548.93 L67.23,549.28 L67.41,549.64 L67.63,549.98 L67.69,550.39 L67.86,550.76 L68.06,551.10 L68.23,551.46 L68.49,551.79 L68.58,552.18 L68.59,552.62 L68.88,552.93 L69.16,553.24 L69.07,553.72 L69.31,554.05 L69.32,554.48 L69.67,554.76 L69.89,555.11 L70.14,555.43 L70.05,555.91 L70.10,556.33 L70.57,556.55 L70.72,556.92 L70.77,557.34 L71.07,557.64 L71.18,558.03 L71.36,558.39 L71.47,558.78 L71.56,559.18 L71.82,559.50 L71.91,559.90 L72.20,560.20 L72.30,560.60 L72.70,560.86 L72.80,561.25 L72.77,561.70 L73.07,562.01 L73.14,562.42 L73.31,562.78 L73.42,563.17 L73.64,563.51 L73.79,563.88 L74.07,564.19 L74.30,564.52 L74.48,564.88 L74.64,565.25 L74.87,565.58 L75.00,565.96 L75.13,566.34 L75.28,566.71 L75.52,567.04 L75.84,567.33 L75.85,567.77 L76.01,568.14 L76.11,568.53 L76.34,568.87 L76.63,569.17 L76.82,569.52 L76.75,570.00 L77.05,570.30 L77.13,570.71 L77.29,571.08 L77.73,571.30 L77.81,571.71 L77.98,572.07 L78.16,572.43 L78.34,572.79 L78.55,573.13 L78.74,573.48 L79.07,573.76 L79.14,574.17 L79.37,574.50 L79.48,574.90 L79.72,575.22 L79.81,575.63 L79.98,575.99 L80.21,576.32 L80.39,576.68 L80.60,577.02 L80.83,577.35 L80.99,577.72 L81.21,578.06 L81.32,578.45 L81.53,578.79 L81.67,579.17 L82.03,579.43 L82.02,579.89 L82.35,580.17 L82.53,580.52 L82.67,580.90 L82.89,581.24 L83.00,581.63 L83.26,581.95 L83.49,582.28 L83.65,582.65 L83.65,583.10 L83.94,583.40 L84.23,583.70 L84.31,584.11 L84.64,584.39 L84.52,584.90 L85.00,585.10 L85.01,585.55 L85.18,585.91 L85.55,586.17 L85.58,586.61 L85.70,586.99 L85.93,587.32 L86.14,587.67 L86.27,588.05 L86.52,588.37 L86.70,588.73 L86.93,589.06 L87.05,589.45 L87.39,589.72 L87.43,590.15 L87.74,590.44 L87.99,590.76 L88.06,591.18 L88.15,591.59 L88.41,591.90 L88.74,592.17 L88.84,592.57 L89.14,592.86 L89.32,593.22 L89.51,593.57 L89.93,593.79 L89.92,594.26 L90.23,594.54 L90.42,594.89 L90.69,595.19 L90.91,595.53 L91.07,595.90 L91.14,596.33 L91.28,596.71 L91.64,596.96 L91.76,597.35 L92.09,597.62 L92.45,597.87 L92.49,598.31 L92.68,598.67 L92.97,598.95 L93.13,599.33 L93.32,599.68 L93.66,599.94 L93.93,600.24 L94.04,600.64 L94.26,600.98 L94.49,601.31 L94.60,601.72 L94.75,602.09 L95.15,602.31 L95.27,602.71 L95.47,603.06 L95.71,603.38 L95.90,603.73 L96.25,603.98 L96.37,604.38 L96.46,604.80 L96.81,605.05 L97.18,605.28 L97.27,605.70 L97.43,606.08 L97.75,606.34 L98.09,606.60 L98.08,607.09 L98.63,607.19 L98.66,607.66 L98.96,607.94 L99.34,608.16 L99.28,608.70 L99.63,608.94 L100.06,609.11 L100.08,609.60 L100.46,609.82 L100.89,609.98 L100.98,610.42 L101.10,610.84 L101.29,611.19 L101.61,611.45 L101.87,611.75 L102.06,612.11 L102.41,612.35 L102.46,612.82 L102.87,613.01 L103.10,613.34 L103.31,613.68 L103.82,613.78 L104.02,614.13 L103.93,614.73 L104.37,614.88 L104.73,615.10 L104.89,615.49 L105.29,615.67 L105.42,616.09 L105.85,616.25 L105.95,616.69 L106.54,616.70 L106.29,617.46 L106.89,617.46 L107.35,617.59 L107.37,618.10 L107.67,618.37 L107.84,618.76 L108.35,618.83 L108.34,619.39 L107.99,620.26 L109.21,619.67 L109.17,620.25 L109.57,620.42 L109.75,620.81 L110.43,620.70 L110.58,621.11 L110.53,621.72 L110.92,621.90 L110.86,622.53 L111.62,622.33 L111.72,622.79 L111.42,623.66 L112.49,623.16 L112.81,623.40 L112.90,623.87 L113.19,624.15 L113.28,624.63 L113.73,624.75 L114.22,624.82 L114.29,625.32 L114.04,626.18 L114.64,626.13 L115.85,625.38 L115.55,626.31 L116.02,626.39 L115.98,627.04 L116.47,627.09 L116.30,627.92 L116.83,627.90 L117.16,628.15 L117.63,628.19 L118.00,628.36 L118.24,628.72 L118.34,629.25 L118.84,629.26 L119.36,629.22 L119.32,629.96 L119.89,629.85 L120.28,629.99 L120.77,629.98 L121.05,630.28 L121.40,630.48 L122.23,629.95 L121.69,631.49 L122.12,631.56 L122.64,631.50 L122.68,632.17 L123.16,632.16 L123.52,632.35 L124.52,631.50 L124.34,632.55 L124.50,633.05 L124.59,633.68 L124.87,633.98 L125.31,634.03 L126.27,633.21 L126.86,632.99 L126.55,634.31 L127.02,634.29 L127.14,634.89 L127.75,634.63 L128.01,634.98 L128.78,634.44 L128.65,635.48 L129.22,635.29 L129.36,635.84 L129.68,636.09 L130.17,636.03 L130.41,636.42 L130.84,636.47 L130.99,637.02 L131.41,637.10 L132.03,636.80 L132.39,636.97 L132.14,638.28 L132.97,637.59 L133.04,638.31 L133.55,638.21 L134.15,637.92 L134.55,638.01 L134.68,638.63 L135.00,638.89 L135.26,639.26 L136.11,638.47 L136.29,639.00 L136.51,639.44 L136.41,640.52 L137.84,638.59 L137.44,640.27 L138.06,639.92 L138.15,640.63 L138.77,640.30 L138.89,640.95 L138.91,641.80 L139.60,641.31 L139.94,641.53 L140.31,641.68 L140.99,641.21 L140.98,642.13 L141.55,641.88 L142.09,641.70 L142.22,642.33 L142.64,642.40 L142.70,643.16 L143.30,642.87 L143.80,642.75 L143.56,644.13 L144.06,644.03 L144.33,644.39 L144.89,644.16 L145.47,643.89 L145.92,643.88 L146.23,644.14 L146.21,645.10 L146.83,644.75 L147.69,643.90 L147.59,645.00 L148.39,644.28 L148.25,645.49 L149.05,644.76 L149.43,644.89 L149.34,645.98 L149.77,646.02 L150.64,645.13 L150.22,646.93 L150.13,648.06 L151.66,645.76 L150.97,648.17 L152.13,646.64 L152.43,646.94 L152.69,647.32 L153.45,646.62 L152.96,648.66 L153.58,648.27 L154.32,647.59 L154.54,648.07 L155.28,647.38 L155.30,648.34 L155.28,649.39 L156.44,647.72 L156.42,648.76 L156.62,649.32 L156.72,650.10 L157.00,650.46 L157.90,649.37 L158.35,649.33 L158.37,650.31 L158.98,649.90 L159.33,650.09 L159.30,651.20 L159.50,651.78 L160.28,650.94 L160.78,650.77 L160.93,651.45 L161.99,649.89 L161.84,651.34 L162.50,650.76 L161.93,653.31 L162.76,652.30 L163.29,652.04 L163.75,651.95 L164.75,650.46 L164.26,652.87 L164.39,653.65 L165.39,652.14 L165.39,653.27 L165.76,653.44 L166.72,651.98 L166.45,653.87 L166.72,654.30 L167.39,653.64 L167.84,653.57 L168.00,654.31 L168.96,652.80 L168.93,654.08 L169.07,654.90 L170.02,653.40 L169.84,655.12 L170.57,654.25 L171.35,653.20 L171.25,654.73 L171.83,654.24 L171.90,655.29 L172.64,654.35 L172.49,656.06 L173.29,654.91 L173.41,655.82 L174.02,655.26 L174.33,655.58 L174.36,656.79 L174.97,656.21 L175.49,655.90 L176.07,655.41 L175.90,657.25 L176.38,657.07 L177.00,656.43 L177.25,656.95 L177.92,656.16 L178.30,656.29 L178.64,656.54 L178.76,657.50 L179.16,657.58 L179.77,656.95 L179.83,658.13 L180.20,658.27 L180.72,657.95 L180.92,658.69 L181.58,657.85 L181.93,658.08 L182.19,658.62 L182.68,658.37 L182.89,659.07 L183.70,657.71 L183.53,659.75 L184.37,658.27 L184.63,658.83 L185.26,658.06 L185.24,659.60 L185.49,660.20 L185.91,660.16 L186.35,660.10 L187.22,658.48 L187.44,659.15 L187.77,659.48 L188.24,659.25 L188.22,660.84 L188.79,660.27 L189.22,660.23 L189.50,660.70 L190.17,659.76 L190.55,659.90 L190.93,660.02 L191.05,661.12 L191.47,661.11 L191.81,661.39 L192.10,661.85 L192.95,660.19 L193.19,660.87 L193.44,661.48 L194.11,660.49 L194.34,661.18 L194.44,662.41 L194.82,662.57 L195.21,662.65 L195.79,661.99 L196.22,661.90 L196.38,662.94 L197.03,661.98 L197.29,662.59 L197.50,663.40 L198.06,662.23" fill="none" stroke="#000" stroke-width="1.2" stroke-linejoin="round" stroke-linecap="round"/>
<path d="M44.00,530.30 L44.39,530.15 L44.69,529.89 L45.02,529.66 L45.39,529.50 L45.55,529.04 L45.91,528.85 L46.20,528.56 L46.59,528.42 L46.97,528.25 L47.20,527.90 L47.52,527.66 L47.64,527.21 L48.07,527.08 L48.31,526.74 L48.79,526.73 L49.08,526.48 L49.44,526.40 L49.83,526.36 L50.14,526.61 L50.43,526.86 L50.77,527.09 L51.03,527.40 L51.24,527.75 L51.50,528.05 L51.71,528.40 L51.89,528.75 L52.13,529.08 L52.16,529.51 L52.52,529.80 L52.41,530.26 L52.66,530.61 L52.75,531.00 L52.92,531.37 L52.90,531.78 L53.00,532.17 L53.04,532.57 L53.19,532.95 L53.20,533.35 L53.11,533.78 L53.32,534.15 L53.49,534.52 L53.41,534.94 L53.59,535.32 L53.59,535.72 L53.65,536.12 L53.82,536.50 L54.04,536.86 L53.95,537.29 L53.92,537.69 L54.08,538.07 L54.06,538.48 L54.07,538.89 L54.29,539.26 L54.17,539.68 L54.20,540.08 L54.32,540.47 L54.37,540.86 L54.44,541.26 L54.39,541.67 L54.66,542.03 L54.74,542.43 L54.74,542.83 L54.95,543.20 L55.08,543.58 L55.08,543.99 L55.02,544.41 L55.08,544.80 L55.34,545.16 L55.45,545.55 L55.36,545.97 L55.42,546.37 L55.47,546.76 L55.47,547.17 L55.49,547.57 L55.67,547.95 L55.71,548.35 L55.95,548.71 L56.04,549.10 L55.98,549.52 L56.02,549.92 L56.09,550.31 L56.18,550.70 L56.24,551.10 L56.32,551.49 L56.65,551.83 L56.63,552.24 L56.59,552.66 L56.66,553.05 L56.94,553.40 L56.76,553.85 L57.00,554.21 L57.06,554.60 L57.08,555.01 L57.12,555.41 L57.41,555.76 L57.25,556.20 L57.42,556.57 L57.58,556.95 L57.61,557.35 L57.88,557.70 L57.81,558.13 L57.81,558.53 L57.97,558.91 L58.02,559.31 L58.08,559.70 L58.14,560.10 L58.13,560.51 L58.31,560.88 L58.41,561.27 L58.41,561.68 L58.34,562.10 L58.66,562.44 L58.66,562.85 L58.95,563.20 L58.74,563.65 L58.89,564.03 L58.91,564.43 L59.12,564.80 L59.30,565.17 L59.20,565.60 L59.29,565.99 L59.54,566.34 L59.68,566.72 L59.57,567.15 L59.72,567.53 L59.53,567.98 L59.93,568.30 L60.01,568.70 L60.06,569.10 L60.29,569.45 L60.30,569.86 L60.14,570.31 L60.40,570.66 L60.54,571.04 L60.69,571.41 L60.60,571.84 L60.68,572.24 L60.81,572.62 L60.96,572.99 L60.99,573.40 L61.07,573.79 L61.27,574.15 L61.24,574.57 L61.60,574.90 L61.61,575.30 L61.61,575.72 L61.69,576.11 L61.88,576.47 L61.83,576.90 L61.86,577.30 L62.02,577.68 L62.14,578.06 L62.17,578.46 L62.31,578.84 L62.56,579.19 L62.57,579.60 L62.52,580.02 L62.86,580.35 L62.84,580.77 L62.99,581.14 L63.14,581.52 L63.25,581.90 L63.25,582.32 L63.33,582.71 L63.43,583.09 L63.71,583.43 L63.70,583.85 L63.75,584.25 L63.80,584.65 L63.93,585.03 L64.02,585.42 L64.11,585.81 L64.25,586.19 L64.52,586.53 L64.54,586.94 L64.73,587.30 L65.01,587.63 L65.06,588.04 L64.81,588.53 L65.24,588.82 L65.47,589.16 L65.43,589.59 L65.35,590.04 L65.63,590.37 L65.71,590.76 L65.91,591.12 L66.02,591.50 L66.02,591.93 L66.20,592.29 L66.42,592.63 L66.47,593.04 L66.59,593.43 L66.86,593.75 L66.95,594.14 L67.10,594.52 L67.33,594.86 L67.31,595.29 L67.58,595.62 L67.77,595.97 L68.02,596.30 L68.13,596.69 L68.02,597.17 L68.41,597.44 L68.42,597.87 L68.64,598.21 L68.71,598.61 L68.85,598.99 L69.12,599.31 L69.22,599.70 L69.33,600.09 L69.47,600.46 L69.63,600.83 L69.80,601.19 L69.85,601.60 L69.93,602.00 L70.14,602.35 L70.40,602.68 L70.43,603.09 L70.60,603.45 L70.70,603.84 L70.71,604.27 L71.05,604.57 L71.17,604.95 L71.39,605.30 L71.47,605.69 L71.64,606.06 L71.58,606.51 L71.84,606.84 L72.06,607.18 L71.97,607.64 L72.42,607.90 L72.35,608.35 L72.48,608.73 L72.67,609.09 L72.90,609.43 L73.03,609.81 L73.20,610.17 L73.24,610.58 L73.68,610.83 L73.67,611.27 L73.76,611.67 L73.98,612.01 L74.25,612.33 L74.25,612.76 L74.45,613.11 L74.46,613.54 L74.56,613.93 L74.84,614.25 L75.18,614.54 L75.17,614.98 L75.40,615.32 L75.40,615.75 L75.46,616.16 L75.76,616.47 L75.74,616.92 L75.95,617.26 L76.21,617.59 L76.55,617.87 L76.60,618.28 L76.96,618.55 L76.84,619.06 L77.13,619.36 L77.15,619.80 L77.48,620.09 L77.96,620.28 L77.81,620.82 L77.96,621.19 L78.06,621.60 L78.63,621.73 L78.83,622.08 L78.89,622.51 L79.26,622.75 L79.52,623.05 L79.70,623.42 L79.33,624.13 L80.06,624.13 L80.35,624.42 L80.48,624.81 L80.63,625.19 L80.64,625.67 L80.93,625.96 L81.19,626.27 L81.57,626.49 L81.79,626.83 L82.18,627.03 L82.59,627.20 L82.19,628.05 L82.91,627.97 L82.90,628.51 L83.42,628.59 L83.64,628.93 L83.93,629.21 L84.44,629.27 L84.47,629.80 L84.65,630.18 L84.84,630.55 L85.19,630.77 L85.37,631.16 L85.80,631.29 L86.15,631.51 L86.87,631.35 L86.84,631.95 L86.65,632.71 L87.26,632.66 L87.39,633.10 L87.91,633.15 L88.30,633.32 L87.92,634.27 L88.62,634.14 L88.61,634.71 L89.14,634.75 L89.64,634.81 L90.43,634.57 L90.11,635.47 L90.84,635.29 L91.31,635.38 L90.66,636.64 L91.09,636.77 L91.40,637.02 L91.86,637.12 L92.18,637.36 L92.34,637.77 L92.72,637.96 L93.04,638.19 L93.15,638.68 L94.38,637.85 L93.72,639.26 L94.47,638.99 L94.34,639.77 L94.55,640.15 L95.46,639.66 L95.28,640.52 L95.59,640.77 L96.36,640.45 L96.63,640.76 L96.75,641.25 L97.79,640.55 L97.56,641.51 L97.68,642.01 L98.20,641.98 L98.89,641.71 L98.83,642.46 L98.57,643.54 L98.96,643.70 L99.74,643.26 L100.29,643.15 L100.38,643.74 L100.71,643.97 L101.26,643.84 L101.49,644.22 L101.53,644.92 L101.77,645.29 L103.18,643.76 L102.43,645.75 L103.04,645.51 L103.06,646.27 L103.78,645.84 L103.98,646.30 L103.93,647.18 L105.78,644.78 L104.64,647.57 L105.44,646.97 L106.45,645.98 L107.08,645.66 L106.45,647.63 L107.24,647.00 L106.93,648.44 L107.54,648.14 L108.01,648.10 L108.00,649.01 L108.62,648.68 L108.80,649.22 L109.13,649.46 L109.66,649.29 L109.87,649.79 L110.23,649.96 L111.27,648.65 L111.29,649.56 L111.61,649.83 L112.06,649.81 L112.77,649.12 L112.84,649.98 L112.96,650.76 L113.37,650.81 L113.38,651.89 L114.33,650.54 L114.66,650.81 L115.07,650.85 L115.37,651.17 L115.82,651.11 L116.52,650.35 L116.33,652.05 L116.55,652.64 L116.90,652.87 L117.82,651.43 L117.98,652.20 L117.86,653.78 L118.71,652.51 L118.98,652.97 L119.48,652.73 L119.59,653.68 L119.99,653.78 L120.06,654.87 L120.86,653.69 L121.25,653.77 L122.00,652.70 L122.21,653.39 L122.65,653.30 L122.95,653.68 L123.55,653.09 L123.39,655.02 L124.26,653.51 L124.36,654.57 L125.06,653.58 L125.11,654.85 L125.22,655.91 L126.12,654.24 L126.26,655.20 L126.73,655.00 L127.04,655.37 L127.40,655.58 L128.00,654.93 L128.29,655.36 L128.76,655.18 L129.20,655.12 L129.66,654.94 L129.59,656.63 L130.33,655.52 L130.42,656.64 L130.83,656.67 L131.54,655.67 L131.50,657.25 L132.28,655.99 L132.35,657.17 L132.57,657.88 L133.40,656.42 L133.83,656.37 L134.21,656.47 L133.94,658.92 L134.87,657.10 L135.43,656.56 L135.40,658.17 L135.98,657.56 L136.34,657.77 L136.92,657.18 L137.55,656.40 L137.64,657.58 L138.08,657.46 L138.58,657.15 L138.86,657.64 L139.22,657.84 L139.27,659.21 L139.67,659.25 L140.10,659.21 L140.69,658.55 L141.21,658.13 L141.30,659.36 L141.65,659.58 L141.94,660.08 L142.52,659.43 L142.93,659.46 L143.23,659.87 L143.85,659.08 L144.22,659.27 L144.33,660.42 L145.07,659.13 L145.24,660.09 L145.47,660.81 L145.96,660.52 L146.31,660.75 L146.98,659.73 L147.19,660.55 L147.60,660.54 L147.84,661.27 L148.26,661.23 L148.71,661.05 L148.77,662.51 L149.40,661.61 L149.93,661.10 L150.38,660.96 L150.67,661.47 L151.15,661.18 L151.16,662.88 L151.73,662.20 L152.27,661.65 L152.72,661.49 L153.18,661.27 L153.43,661.95 L153.56,663.20 L154.03,662.94 L154.56,662.38 L154.92,662.61 L155.64,661.23 L155.60,663.24 L156.15,662.61 L156.28,663.87 L156.93,662.82 L157.37,662.68 L157.64,663.28 L158.17,662.75 L158.24,664.28 L158.80,663.60 L159.18,663.74 L159.57,663.81 L160.08,663.39 L160.33,664.09 L160.77,663.95 L160.91,665.20 L161.57,664.04 L161.91,664.35 L162.43,663.83 L162.81,663.98 L163.19,664.11 L163.33,665.37 L163.91,664.57 L164.17,665.31 L164.75,664.49 L165.15,664.50 L165.78,663.44 L165.75,665.54 L165.96,666.53 L166.70,664.93 L166.84,666.23 L167.32,665.88 L167.94,664.84 L168.12,665.98 L168.75,664.84 L169.06,665.36 L169.23,666.55 L169.78,665.85 L170.36,664.95 L170.38,666.93 L171.13,665.16 L171.39,665.92 L171.81,665.86 L172.18,666.07 L172.67,665.64 L173.17,665.13 L173.08,667.78 L173.86,665.79 L174.24,665.90 L174.84,664.83 L174.90,666.77 L175.13,667.72 L175.51,667.87 L175.73,668.95 L176.29,668.09 L176.83,667.35 L177.27,667.14 L177.49,668.25 L178.07,667.23 L178.43,667.47 L178.97,666.68 L179.23,667.53 L179.40,668.98 L180.04,667.53 L180.38,667.94 L181.11,665.93 L181.06,668.77 L181.57,668.11 L181.85,668.94 L182.38,668.14 L182.90,667.39 L183.35,667.07 L183.54,668.51 L183.99,668.17 L184.50,667.52 L184.79,668.25 L185.25,667.89 L185.50,668.94 L186.02,668.16 L186.50,667.61 L186.77,668.51 L187.22,668.21 L187.40,669.77 L188.00,668.38 L188.49,667.80 L188.75,668.79 L189.17,668.69 L189.51,669.13 L189.92,669.14 L190.44,668.26 L190.74,669.04 L191.14,669.05 L191.64,668.29 L191.98,668.80 L192.30,669.43 L192.87,668.14 L193.22,668.57 L193.56,669.07 L193.92,669.40 L194.26,669.89 L194.83,668.55 L195.07,669.82 L195.44,670.11 L195.76,670.84 L196.33,669.43 L196.77,669.10 L197.22,668.69 L197.44,670.29 L197.77,670.88 L198.07,669.43" fill="none" stroke="#000" stroke-width="1.2" stroke-linejoin="round" stroke-linecap="round"/>
<path d="M44.09,530.46 L44.17,529.84 L44.72,529.93 L44.97,529.59 L45.34,529.41 L45.56,529.05 L45.94,528.85 L46.06,528.43 L46.23,528.06 L46.51,527.76 L46.67,527.39 L46.77,527.00 L46.96,526.64 L47.25,526.36 L47.51,526.10 L47.88,526.01 L48.22,526.24 L48.61,526.44 L48.58,526.97 L48.96,527.20 L49.03,527.62 L49.30,527.92 L49.35,528.34 L49.57,528.68 L49.86,528.98 L49.92,529.39 L50.30,529.66 L50.22,530.11 L50.60,530.42 L50.53,530.85 L50.57,531.26 L50.74,531.62 L50.89,532.00 L51.02,532.38 L51.06,532.78 L51.01,533.20 L51.10,533.59 L51.29,533.96 L51.46,534.33 L51.35,534.76 L51.63,535.12 L51.61,535.53 L51.70,535.92 L51.63,536.34 L51.74,536.72 L51.79,537.12 L51.88,537.51 L52.04,537.89 L51.98,538.31 L51.96,538.72 L52.17,539.09 L52.17,539.49 L52.31,539.87 L52.26,540.29 L52.36,540.68 L52.41,541.07 L52.52,541.46 L52.46,541.88 L52.72,542.24 L52.78,542.63 L52.88,543.02 L52.82,543.44 L53.01,543.81 L53.08,544.21 L53.01,544.62 L53.04,545.03 L53.16,545.41 L53.55,545.75 L53.45,546.17 L53.54,546.56 L53.62,546.95 L53.62,547.36 L53.47,547.79 L53.76,548.15 L53.88,548.53 L53.82,548.95 L53.96,549.33 L54.04,549.72 L54.20,550.10 L54.21,550.50 L54.25,550.90 L54.56,551.25 L54.61,551.65 L54.43,552.09 L54.53,552.48 L54.75,552.84 L54.88,553.23 L54.88,553.63 L55.06,554.01 L55.05,554.41 L54.94,554.85 L55.17,555.21 L55.15,555.62 L55.37,555.98 L55.39,556.39 L55.38,556.80 L55.72,557.13 L55.71,557.55 L55.77,557.94 L55.81,558.34 L55.77,558.76 L55.94,559.13 L56.23,559.48 L56.20,559.90 L56.34,560.27 L56.43,560.66 L56.22,561.12 L56.61,561.44 L56.56,561.86 L56.74,562.23 L56.67,562.66 L56.80,563.04 L56.91,563.42 L57.02,563.81 L56.98,564.23 L57.27,564.58 L57.33,564.97 L57.46,565.35 L57.30,565.80 L57.55,566.15 L57.70,566.53 L57.73,566.93 L57.53,567.38 L57.87,567.72 L57.86,568.13 L57.99,568.51 L58.12,568.89 L58.27,569.27 L58.32,569.67 L58.41,570.06 L58.68,570.41 L58.30,570.90 L58.55,571.26 L58.72,571.63 L58.84,572.01 L58.98,572.39 L58.90,572.82 L59.10,573.18 L59.12,573.59 L59.39,573.94 L59.30,574.37 L59.23,574.79 L59.55,575.13 L59.53,575.55 L59.69,575.92 L59.67,576.33 L59.76,576.72 L59.95,577.09 L60.10,577.47 L60.10,577.88 L60.21,578.26 L60.37,578.64 L60.35,579.05 L60.44,579.44 L60.66,579.80 L60.67,580.21 L60.46,580.67 L60.75,581.01 L60.91,581.38 L60.76,581.83 L61.14,582.15 L61.43,582.50 L61.46,582.90 L61.51,583.30 L61.43,583.73 L61.45,584.13 L61.84,584.45 L61.61,584.92 L61.93,585.25 L61.88,585.68 L61.95,586.07 L62.04,586.46 L62.17,586.84 L62.25,587.23 L62.47,587.59 L62.42,588.01 L62.45,588.42 L62.54,588.81 L62.47,589.24 L62.71,589.59 L62.84,589.97 L62.84,590.38 L63.08,590.74 L63.32,591.09 L63.51,591.46 L63.26,591.93 L63.42,592.30 L63.49,592.70 L63.70,593.05 L63.73,593.46 L63.68,593.89 L63.93,594.24 L64.17,594.59 L64.20,594.99 L64.13,595.42 L64.46,595.75 L64.71,596.10 L64.78,596.49 L64.79,596.90 L64.69,597.35 L64.86,597.71 L65.05,598.08 L65.20,598.45 L65.20,598.87 L65.31,599.25 L65.45,599.62 L65.53,600.02 L65.69,600.39 L65.55,600.84 L66.06,601.11 L65.93,601.57 L66.15,601.92 L66.10,602.35 L66.30,602.71 L66.36,603.11 L66.46,603.50 L66.60,603.87 L66.64,604.28 L66.98,604.59 L66.88,605.04 L67.10,605.39 L67.16,605.79 L67.17,606.21 L67.33,606.58 L67.37,606.99 L67.89,607.24 L67.89,607.66 L67.83,608.10 L68.15,608.41 L68.19,608.82 L68.12,609.27 L68.33,609.62 L68.66,609.93 L68.62,610.37 L68.73,610.75 L68.93,611.11 L69.08,611.48 L69.19,611.86 L69.54,612.16 L69.46,612.62 L69.75,612.93 L69.70,613.38 L69.83,613.76 L70.18,614.05 L70.09,614.52 L70.28,614.87 L70.49,615.22 L70.51,615.64 L70.84,615.94 L70.99,616.31 L71.08,616.71 L71.26,617.06 L71.19,617.53 L72.03,617.60 L71.79,618.14 L72.30,618.35 L72.17,618.85 L72.17,619.29 L72.40,619.62 L72.35,620.09 L72.66,620.38 L73.54,620.41 L73.34,620.95 L72.88,621.61 L73.05,621.97 L73.58,622.16 L74.17,622.32 L73.40,623.14 L74.69,622.95 L74.23,623.62 L74.51,623.93 L74.61,624.33 L75.18,624.49 L75.15,624.96 L74.90,625.53 L75.54,625.66 L75.99,625.88 L75.76,626.44 L75.91,626.81 L76.16,627.13 L76.55,627.38 L76.31,627.96 L76.71,628.20 L77.25,628.37 L76.96,628.97 L77.23,629.28 L77.36,629.66 L78.20,629.67 L78.06,630.20 L77.81,630.79 L77.82,631.24 L78.22,631.47 L78.48,631.78 L78.46,632.26 L78.55,632.67 L78.43,633.19 L79.13,633.26 L79.75,633.37 L79.52,633.96 L80.72,633.72 L80.10,634.55 L80.51,634.77 L80.54,635.22 L80.53,635.69 L80.93,635.92 L81.80,635.84 L81.54,636.48 L81.95,636.69 L81.82,637.25 L81.87,637.69 L82.69,637.63 L82.13,638.48 L82.08,639.00 L83.04,638.83 L82.79,639.49 L84.08,639.09 L83.86,639.73 L83.35,640.57 L84.93,639.94 L84.54,640.71 L84.97,640.89 L84.18,641.96 L84.41,642.29 L85.56,641.94 L85.41,642.54 L87.08,641.76 L85.52,643.48 L86.03,643.59 L85.76,644.32 L87.99,643.02 L86.79,644.53 L87.42,644.52 L88.90,643.77 L88.13,644.96 L88.06,645.55 L87.84,646.28 L88.44,646.28 L89.11,646.21 L88.85,647.00 L89.43,647.00 L90.01,646.99 L90.50,647.07 L90.12,648.00 L90.40,648.29 L89.72,649.55 L91.32,648.49 L90.42,650.01 L91.44,649.53 L91.25,650.32 L92.75,649.28 L93.03,649.56 L93.00,650.19 L92.59,651.26 L93.31,651.04 L93.27,651.71 L93.83,651.67 L93.72,652.44 L94.52,652.10 L95.26,651.82 L94.96,652.84 L95.52,652.77 L94.88,654.27 L96.30,653.07 L96.47,653.52 L97.02,653.44 L96.52,654.80 L97.00,654.82 L97.45,654.89 L98.84,653.67 L99.31,653.70 L98.63,655.30 L98.70,655.89 L98.59,656.70 L100.76,654.44 L100.16,655.92 L101.36,655.01 L101.26,655.81 L101.15,656.61 L100.78,657.74 L101.96,656.87 L102.39,656.97 L102.47,657.52 L101.86,658.94 L101.49,660.05 L104.14,657.35 L103.70,658.54 L104.11,658.68 L103.48,660.12 L104.23,659.82 L103.90,660.89 L105.71,659.23 L105.42,660.24 L106.01,660.13 L106.70,659.89 L106.47,660.84 L107.38,660.31 L105.78,663.10 L107.10,662.00 L108.23,661.14 L108.32,661.69 L107.36,663.73 L108.90,662.25 L108.59,663.39 L108.99,663.53 L109.05,664.16 L109.63,664.02 L110.41,663.56 L110.93,663.47 L111.85,662.71 L111.35,664.32 L111.61,664.67 L112.19,664.45 L112.44,664.81 L113.25,664.09 L112.16,667.14 L113.66,665.05 L114.24,664.77 L114.41,665.31 L114.60,665.85 L114.59,666.81 L116.21,664.24 L115.41,666.95 L116.22,666.13 L116.42,666.67 L116.33,667.87 L116.79,667.82 L117.70,666.71 L117.85,667.38 L117.51,669.26 L118.07,668.96 L118.62,668.68 L119.30,668.07 L119.34,669.06 L119.91,668.70 L120.60,668.01 L121.13,667.75 L120.99,669.25 L121.42,669.26 L121.52,670.13 L122.45,668.76 L122.22,670.58 L123.16,669.14 L123.03,670.72 L123.63,670.22 L124.36,669.34 L124.85,669.14 L124.97,670.01 L125.39,670.01 L125.41,671.23 L126.28,669.88 L126.90,669.30 L126.84,670.74 L126.63,672.62 L127.10,672.49 L128.15,670.58 L128.43,671.02 L128.63,671.68 L129.31,670.91 L129.56,671.42 L129.95,671.51 L130.56,670.94 L130.81,671.45 L131.15,671.69 L131.32,672.47 L132.12,671.31 L132.12,672.60 L132.82,671.74 L133.15,672.01 L133.62,671.85 L132.53,676.62 L133.70,674.25 L134.06,674.45 L134.59,674.09 L135.27,673.25 L135.57,673.65 L135.89,673.97 L136.22,674.23 L136.57,674.48 L136.69,675.44 L138.31,671.48 L138.03,673.78 L138.08,675.02 L138.74,674.19 L139.07,674.49 L139.01,676.11 L139.74,675.04 L139.70,676.60 L140.58,675.05 L140.89,675.41 L141.61,674.33 L142.24,673.60 L142.21,675.15 L142.47,675.69 L142.96,675.43 L143.60,674.62 L143.48,676.56 L144.01,676.13 L144.41,676.18 L144.99,675.56 L144.78,677.89 L145.21,677.84 L145.88,676.87 L146.37,676.58 L146.67,677.02 L146.72,678.45 L146.84,679.58 L147.89,677.10 L148.38,676.80 L149.09,675.62 L148.42,679.96 L149.70,676.46 L149.64,678.38 L150.11,678.13 L150.32,679.00 L151.19,677.06 L151.74,676.45 L151.75,678.18 L152.08,678.51 L152.32,679.28 L153.30,676.74 L153.43,677.97 L153.79,678.23 L154.39,677.31 L154.55,678.50 L154.75,679.48 L155.30,678.78 L155.97,677.56 L156.01,679.30 L156.30,679.86 L156.76,679.64 L157.10,679.96 L157.96,677.76 L157.95,679.81 L158.32,680.02 L158.89,679.19 L159.22,679.57 L159.75,678.98 L159.77,680.93 L160.45,679.58 L160.96,679.06 L161.14,680.19 L161.55,680.20 L161.84,680.79 L162.50,679.47 L162.87,679.69 L163.07,680.75 L163.14,682.56 L163.84,680.98 L164.56,679.34 L164.68,680.85 L165.24,680.04 L165.81,679.10 L166.01,680.27 L166.38,680.44 L166.61,681.44 L166.85,682.36 L167.28,682.25 L167.73,682.02 L168.32,680.92 L168.62,681.54 L169.05,681.42 L169.22,682.85 L169.93,680.98 L170.31,681.14 L170.40,683.12 L170.93,682.33 L171.48,681.42 L171.78,682.06 L172.18,682.11 L172.57,682.21 L172.88,682.84 L173.34,682.49 L173.81,682.03 L174.25,681.79 L174.81,680.69 L175.03,681.96 L175.22,683.51 L175.74,682.70 L176.24,681.92 L176.59,682.36 L177.06,681.83 L177.32,682.97 L177.51,684.64 L177.94,684.50 L178.41,683.97 L178.85,683.63 L179.36,682.72 L179.87,681.80 L180.13,683.03 L180.58,682.64 L180.84,683.90 L181.31,683.30 L181.78,682.65 L182.08,683.67 L182.23,686.04 L183.00,682.46 L183.20,684.44 L183.65,683.97 L184.12,683.35 L184.58,682.77 L184.90,683.55 L185.28,683.77 L185.63,684.33 L186.04,684.31 L186.47,683.98 L186.96,683.07 L187.27,684.04 L187.73,683.35 L188.18,682.84 L188.42,684.71 L188.94,683.27 L189.38,682.80 L189.68,684.04 L190.23,682.16 L190.49,683.96 L190.85,684.48 L191.31,683.69 L191.66,684.34 L191.93,686.19 L192.38,685.53 L192.81,685.09 L193.24,684.80 L193.71,683.77 L194.08,684.15 L194.49,684.04 L194.87,684.36 L195.27,684.47 L195.72,683.61 L195.98,685.94 L196.52,683.44 L196.85,684.79 L197.22,685.45 L197.67,684.46 L198.03,683.87" fill="none" stroke="#000" stroke-width="1.25" stroke-linejoin="round" stroke-linecap="round"/>
<!-- panel_F -->
<text x="271.9" y="489.8" font-size="16.6" text-anchor="start" font-weight="bold" style="stroke-width:0.5px">F</text>
<line x1="311.7" y1="503.8" x2="311.7" y2="669.5" stroke="#000" stroke-width="1.2"/>
<line x1="311.7" y1="504.4" x2="316.1" y2="504.4" stroke="#000" stroke-width="1.1"/>
<text x="302.3" y="511.1" font-size="11.4" text-anchor="end" font-weight="normal">100</text>
<line x1="311.7" y1="538.1" x2="316.1" y2="538.1" stroke="#000" stroke-width="1.1"/>
<text x="306.3" y="541.9" font-size="11.4" text-anchor="end" font-weight="normal">80</text>
<line x1="311.7" y1="570.5" x2="316.1" y2="570.5" stroke="#000" stroke-width="1.1"/>
<text x="306.3" y="574.5" font-size="11.4" text-anchor="end" font-weight="normal">60</text>
<line x1="311.7" y1="603.0" x2="316.1" y2="603.0" stroke="#000" stroke-width="1.1"/>
<text x="306.3" y="607.0" font-size="11.4" text-anchor="end" font-weight="normal">40</text>
<line x1="311.7" y1="636.8" x2="316.1" y2="636.8" stroke="#000" stroke-width="1.1"/>
<text x="306.3" y="641.0" font-size="11.4" text-anchor="end" font-weight="normal">20</text>
<line x1="311.7" y1="669.0" x2="316.1" y2="669.0" stroke="#000" stroke-width="1.1"/>
<text x="306.3" y="671.8" font-size="11.4" text-anchor="end" font-weight="normal">0</text>
<text transform="translate(281.2,644.5) rotate(-90)" font-size="11.5" textLength="125.5" lengthAdjust="spacingAndGlyphs">Maximum amplitude (%)</text>
<rect x="328.0" y="536.6" width="19.0" height="132.6" fill="#000"/>
<line x1="337.5" y1="537.1" x2="337.5" y2="528.0" stroke="#000" stroke-width="1.1"/>
<line x1="334.5" y1="528.0" x2="340.5" y2="528.0" stroke="#000" stroke-width="1.1"/>
<rect x="354.0" y="636.0" width="20.0" height="33.2" fill="#000"/>
<line x1="364.0" y1="636.5" x2="364.0" y2="622.3" stroke="#000" stroke-width="1.1"/>
<line x1="361.2" y1="622.3" x2="366.8" y2="622.3" stroke="#000" stroke-width="1.1"/>
<circle cx="361.70" cy="612.4" r="1.2" fill="#000"/>
<circle cx="366.30" cy="612.4" r="1.2" fill="#000"/>
<rect x="380.0" y="547.5" width="20.0" height="121.7" fill="#000"/>
<line x1="390.0" y1="548.0" x2="390.0" y2="538.0" stroke="#000" stroke-width="1.1"/>
<line x1="387.0" y1="538.0" x2="393.0" y2="538.0" stroke="#000" stroke-width="1.1"/>
<rect x="406.0" y="549.0" width="20.0" height="120.2" fill="#000"/>
<line x1="416.0" y1="549.5" x2="416.0" y2="541.0" stroke="#000" stroke-width="1.1"/>
<line x1="413.0" y1="541.0" x2="419.0" y2="541.0" stroke="#000" stroke-width="1.1"/>
<text transform="translate(340.4,677.4) rotate(-45)" text-anchor="end" font-size="11.5" textLength="48.8" lengthAdjust="spacingAndGlyphs">Thrombin</text>
<g transform="translate(364.6,677.1) rotate(-45)" text-anchor="start" font-size="11.5"><text x="-43.6" y="0" textLength="43.6" lengthAdjust="spacingAndGlyphs">OxHDL+</text><text x="-43.6" y="11.6" textLength="48.8" lengthAdjust="spacingAndGlyphs">Thrombin</text></g>
<text transform="translate(397.8,676.8) rotate(-45)" text-anchor="end" font-size="11.5">PMA</text>
<g transform="translate(423.4,676.2) rotate(-45)" text-anchor="start" font-size="11.5"><text x="-43.6" y="0" textLength="43.6" lengthAdjust="spacingAndGlyphs">OxHDL+</text><text x="-43.6" y="11.6">PMA</text></g>
</svg>
</body>
</html>
